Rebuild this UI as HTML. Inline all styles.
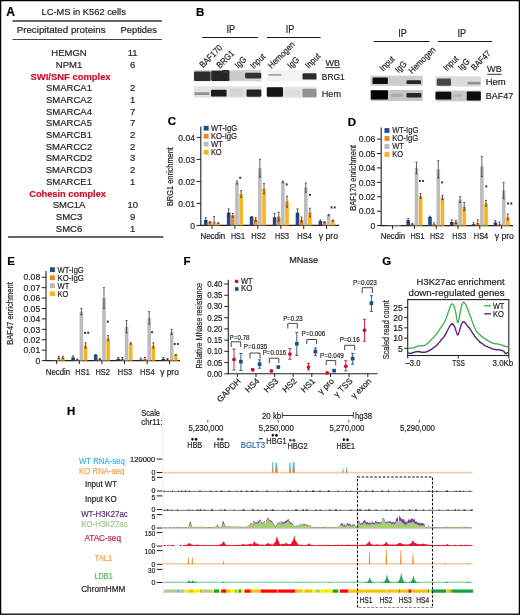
<!DOCTYPE html><html><head><meta charset="utf-8"><style>html,body{margin:0;padding:0;background:#fff;}svg{display:block;font-family:"Liberation Sans",sans-serif;}text{stroke-width:0.2px;}</style></head><body>
<svg width="520" height="615" viewBox="0 0 520 615">
<defs><filter id="gb" x="0" y="0" width="100%" height="100%" color-interpolation-filters="sRGB"><feGaussianBlur stdDeviation="0.3"/></filter><filter id="bl" x="-20%" y="-50%" width="140%" height="200%"><feGaussianBlur stdDeviation="0.55"/></filter></defs>
<rect x="0" y="0" width="520" height="615" fill="#fff"/>
<g fill="#231f20" filter="url(#gb)">
<text x="6.30" y="15.50" font-size="12" font-weight="bold" fill="#000" stroke="#000">A</text>
<text x="41.50" y="14.90" font-size="9.9" fill="#231f20" stroke="#231f20" textLength="84.3" lengthAdjust="spacingAndGlyphs">LC-MS in K562 cells</text>
<line x1="12.50" y1="20.90" x2="161.80" y2="20.90" stroke="#333" stroke-width="1.5"/>
<text x="16.70" y="33.10" font-size="9.9" fill="#231f20" stroke="#231f20" textLength="88.9" lengthAdjust="spacingAndGlyphs">Precipitated proteins</text>
<text x="120.50" y="33.10" font-size="9.9" fill="#231f20" stroke="#231f20" textLength="36.4" lengthAdjust="spacingAndGlyphs">Peptides</text>
<line x1="12.50" y1="39.50" x2="161.80" y2="39.50" stroke="#444" stroke-width="1"/>
<text x="69.00" y="55.90" font-size="9.5" text-anchor="middle" fill="#231f20" stroke="#231f20">HEMGN</text>
<text x="132.70" y="55.90" font-size="9.5" text-anchor="middle" fill="#231f20" stroke="#231f20">11</text>
<text x="69.00" y="67.62" font-size="9.5" text-anchor="middle" fill="#231f20" stroke="#231f20">NPM1</text>
<text x="132.70" y="67.62" font-size="9.5" text-anchor="middle" fill="#231f20" stroke="#231f20">6</text>
<text x="30.60" y="79.84" font-size="9.5" font-weight="bold" fill="#c8102e" stroke="#c8102e" textLength="80.0" lengthAdjust="spacingAndGlyphs">SWI/SNF complex</text>
<text x="69.00" y="91.06" font-size="9.5" text-anchor="middle" fill="#231f20" stroke="#231f20">SMARCA1</text>
<text x="132.70" y="91.06" font-size="9.5" text-anchor="middle" fill="#231f20" stroke="#231f20">2</text>
<text x="69.00" y="102.78" font-size="9.5" text-anchor="middle" fill="#231f20" stroke="#231f20">SMARCA2</text>
<text x="132.70" y="102.78" font-size="9.5" text-anchor="middle" fill="#231f20" stroke="#231f20">1</text>
<text x="69.00" y="114.50" font-size="9.5" text-anchor="middle" fill="#231f20" stroke="#231f20">SMARCA4</text>
<text x="132.70" y="114.50" font-size="9.5" text-anchor="middle" fill="#231f20" stroke="#231f20">7</text>
<text x="69.00" y="126.22" font-size="9.5" text-anchor="middle" fill="#231f20" stroke="#231f20">SMARCA5</text>
<text x="132.70" y="126.22" font-size="9.5" text-anchor="middle" fill="#231f20" stroke="#231f20">7</text>
<text x="69.00" y="137.94" font-size="9.5" text-anchor="middle" fill="#231f20" stroke="#231f20">SMARCB1</text>
<text x="132.70" y="137.94" font-size="9.5" text-anchor="middle" fill="#231f20" stroke="#231f20">2</text>
<text x="69.00" y="149.66" font-size="9.5" text-anchor="middle" fill="#231f20" stroke="#231f20">SMARCC2</text>
<text x="132.70" y="149.66" font-size="9.5" text-anchor="middle" fill="#231f20" stroke="#231f20">2</text>
<text x="69.00" y="161.38" font-size="9.5" text-anchor="middle" fill="#231f20" stroke="#231f20">SMARCD2</text>
<text x="132.70" y="161.38" font-size="9.5" text-anchor="middle" fill="#231f20" stroke="#231f20">3</text>
<text x="69.00" y="173.10" font-size="9.5" text-anchor="middle" fill="#231f20" stroke="#231f20">SMARCD3</text>
<text x="132.70" y="173.10" font-size="9.5" text-anchor="middle" fill="#231f20" stroke="#231f20">2</text>
<text x="69.00" y="184.82" font-size="9.5" text-anchor="middle" fill="#231f20" stroke="#231f20">SMARCE1</text>
<text x="132.70" y="184.82" font-size="9.5" text-anchor="middle" fill="#231f20" stroke="#231f20">1</text>
<text x="29.20" y="197.04" font-size="9.5" font-weight="bold" fill="#c8102e" stroke="#c8102e" textLength="76.8" lengthAdjust="spacingAndGlyphs">Cohesin complex</text>
<text x="69.00" y="208.26" font-size="9.5" text-anchor="middle" fill="#231f20" stroke="#231f20">SMC1A</text>
<text x="132.70" y="208.26" font-size="9.5" text-anchor="middle" fill="#231f20" stroke="#231f20">10</text>
<text x="69.00" y="219.98" font-size="9.5" text-anchor="middle" fill="#231f20" stroke="#231f20">SMC3</text>
<text x="132.70" y="219.98" font-size="9.5" text-anchor="middle" fill="#231f20" stroke="#231f20">9</text>
<text x="69.00" y="231.70" font-size="9.5" text-anchor="middle" fill="#231f20" stroke="#231f20">SMC6</text>
<text x="132.70" y="231.70" font-size="9.5" text-anchor="middle" fill="#231f20" stroke="#231f20">1</text>
<line x1="8.10" y1="237.10" x2="163.40" y2="237.10" stroke="#333" stroke-width="1.5"/>
<text x="195.90" y="16.10" font-size="11.5" font-weight="bold" fill="#000" stroke="#000">B</text>
<line x1="202.20" y1="37.50" x2="258.20" y2="37.50" stroke="#1a1a1a" stroke-width="1.15"/>
<text x="226.40" y="32.90" font-size="10.3" fill="#231f20" stroke="#231f20" textLength="8.6" lengthAdjust="spacingAndGlyphs">IP</text>
<line x1="266.90" y1="37.50" x2="320.60" y2="37.50" stroke="#1a1a1a" stroke-width="1.15"/>
<text x="285.70" y="33.00" font-size="10.3" fill="#231f20" stroke="#231f20" textLength="8.6" lengthAdjust="spacingAndGlyphs">IP</text>
<line x1="373.80" y1="41.50" x2="429.50" y2="41.50" stroke="#1a1a1a" stroke-width="1.15"/>
<text x="398.20" y="36.90" font-size="10.3" fill="#231f20" stroke="#231f20" textLength="8.6" lengthAdjust="spacingAndGlyphs">IP</text>
<line x1="437.80" y1="41.50" x2="492.00" y2="41.50" stroke="#1a1a1a" stroke-width="1.15"/>
<text x="457.40" y="37.30" font-size="10.3" fill="#231f20" stroke="#231f20" textLength="8.6" lengthAdjust="spacingAndGlyphs">IP</text>
<text transform="translate(203.00,68.30) rotate(-45)" font-size="8.9" fill="#231f20" stroke="#231f20" textLength="27.98" lengthAdjust="spacingAndGlyphs">BAF170</text>
<text transform="translate(220.00,68.80) rotate(-45)" font-size="8.9" fill="#231f20" stroke="#231f20" textLength="21.09" lengthAdjust="spacingAndGlyphs">BRG1</text>
<text transform="translate(238.30,68.80) rotate(-45)" font-size="8.9" fill="#231f20" stroke="#231f20" textLength="12.48" lengthAdjust="spacingAndGlyphs">IgG</text>
<text transform="translate(253.80,69.30) rotate(-45)" font-size="8.9" fill="#231f20" stroke="#231f20" textLength="17.22" lengthAdjust="spacingAndGlyphs">Input</text>
<text transform="translate(271.60,69.00) rotate(-45)" font-size="8.9" fill="#231f20" stroke="#231f20" textLength="33.57" lengthAdjust="spacingAndGlyphs">Hemogen</text>
<text transform="translate(291.00,69.00) rotate(-45)" font-size="8.9" fill="#231f20" stroke="#231f20" textLength="12.48" lengthAdjust="spacingAndGlyphs">IgG</text>
<text transform="translate(308.80,69.00) rotate(-45)" font-size="8.9" fill="#231f20" stroke="#231f20" textLength="17.22" lengthAdjust="spacingAndGlyphs">Input</text>
<text transform="translate(383.20,71.80) rotate(-45)" font-size="8.9" fill="#231f20" stroke="#231f20" textLength="17.22" lengthAdjust="spacingAndGlyphs">Input</text>
<text transform="translate(398.50,73.20) rotate(-45)" font-size="8.9" fill="#231f20" stroke="#231f20" textLength="12.48" lengthAdjust="spacingAndGlyphs">IgG</text>
<text transform="translate(412.30,74.20) rotate(-45)" font-size="8.9" fill="#231f20" stroke="#231f20" textLength="33.57" lengthAdjust="spacingAndGlyphs">Hemogen</text>
<text transform="translate(446.80,71.60) rotate(-45)" font-size="8.9" fill="#231f20" stroke="#231f20" textLength="17.22" lengthAdjust="spacingAndGlyphs">Input</text>
<text transform="translate(461.50,70.90) rotate(-45)" font-size="8.9" fill="#231f20" stroke="#231f20" textLength="12.48" lengthAdjust="spacingAndGlyphs">IgG</text>
<text transform="translate(474.50,70.90) rotate(-45)" font-size="8.9" fill="#231f20" stroke="#231f20" textLength="23.67" lengthAdjust="spacingAndGlyphs">BAF47</text>
<text x="325.40" y="65.90" font-size="9.6" fill="#231f20" stroke="#231f20" textLength="14.6" lengthAdjust="spacingAndGlyphs">WB</text>
<line x1="325.40" y1="67.60" x2="340.00" y2="67.60" stroke="#222" stroke-width="0.9"/>
<text x="321.80" y="79.70" font-size="9.6" fill="#231f20" stroke="#231f20" textLength="23.0" lengthAdjust="spacingAndGlyphs">BRG1</text>
<text x="321.80" y="96.50" font-size="9.6" fill="#231f20" stroke="#231f20" textLength="19.2" lengthAdjust="spacingAndGlyphs">Hem</text>
<text x="487.10" y="72.40" font-size="9.6" fill="#231f20" stroke="#231f20" textLength="14.7" lengthAdjust="spacingAndGlyphs">WB</text>
<line x1="487.10" y1="74.30" x2="501.80" y2="74.30" stroke="#222" stroke-width="0.9"/>
<text x="485.70" y="85.40" font-size="9.6" fill="#231f20" stroke="#231f20" textLength="20.1" lengthAdjust="spacingAndGlyphs">Hem</text>
<text x="485.70" y="99.30" font-size="9.6" fill="#231f20" stroke="#231f20" textLength="27.7" lengthAdjust="spacingAndGlyphs">BAF47</text>
<rect x="193.80" y="70.00" width="67.70" height="11.40" fill="#d4d4d4"/>
<rect x="194.00" y="71.60" width="16.60" height="9.40" rx="1.20" fill="#2e2e2e" opacity="1.0" filter="url(#bl)"/>
<rect x="211.20" y="70.80" width="18.40" height="10.20" rx="1.20" fill="#282828" opacity="1.0" filter="url(#bl)"/>
<rect x="222.00" y="70.00" width="7.00" height="3.00" rx="1.00" fill="#303030" opacity="1.0" filter="url(#bl)"/>
<rect x="229.50" y="72.00" width="14.50" height="8.00" rx="1.20" fill="#c8c8c8" opacity="0.8" filter="url(#bl)"/>
<rect x="245.00" y="72.80" width="16.20" height="5.60" rx="1.20" fill="#333333" opacity="1.0" filter="url(#bl)"/>
<rect x="193.80" y="86.30" width="67.70" height="11.40" fill="#e2e2e2"/>
<rect x="194.50" y="92.30" width="15.00" height="2.60" rx="0.87" fill="#8a8a8a" opacity="0.9" filter="url(#bl)"/>
<rect x="211.00" y="89.80" width="15.60" height="6.80" rx="1.20" fill="#1c1c1c" opacity="1.0" filter="url(#bl)"/>
<rect x="229.50" y="88.50" width="14.00" height="8.00" rx="1.20" fill="#d2d2d2" opacity="0.8" filter="url(#bl)"/>
<rect x="246.50" y="89.40" width="14.80" height="7.40" rx="1.20" fill="#222222" opacity="1.0" filter="url(#bl)"/>
<rect x="266.80" y="70.20" width="50.00" height="11.20" fill="#f3f3f3"/>
<rect x="268.50" y="74.00" width="13.00" height="1.80" rx="0.60" fill="#9a9a9a" opacity="0.9" filter="url(#bl)"/>
<rect x="302.50" y="73.30" width="14.00" height="6.30" rx="1.20" fill="#2c2c2c" opacity="1.0" filter="url(#bl)"/>
<rect x="266.80" y="86.80" width="50.00" height="11.00" fill="#e4e4e4"/>
<rect x="266.80" y="87.20" width="16.20" height="9.60" rx="1.20" fill="#141414" opacity="1.0" filter="url(#bl)"/>
<rect x="286.00" y="90.50" width="14.00" height="5.00" rx="1.20" fill="#d8d8d8" opacity="0.6" filter="url(#bl)"/>
<rect x="302.50" y="88.80" width="14.00" height="8.40" rx="1.20" fill="#8a8a8a" opacity="0.9" filter="url(#bl)"/>
<rect x="370.50" y="75.70" width="52.30" height="10.10" fill="#cdcdcd"/>
<rect x="372.50" y="77.50" width="15.40" height="6.40" rx="1.20" fill="#0e0e0e" opacity="1.0" filter="url(#bl)"/>
<rect x="406.50" y="80.20" width="14.50" height="3.90" rx="1.20" fill="#262626" opacity="1.0" filter="url(#bl)"/>
<rect x="370.50" y="90.00" width="52.30" height="11.00" fill="#c6c6c6"/>
<rect x="370.80" y="90.30" width="17.20" height="9.20" rx="1.20" fill="#050505" opacity="1.0" filter="url(#bl)"/>
<rect x="391.00" y="93.50" width="12.00" height="3.50" rx="1.17" fill="#a6a6a6" opacity="0.8" filter="url(#bl)"/>
<rect x="406.50" y="93.00" width="14.80" height="4.60" rx="1.20" fill="#262626" opacity="1.0" filter="url(#bl)"/>
<rect x="435.50" y="76.20" width="45.50" height="10.40" fill="#dcdcdc"/>
<rect x="436.80" y="78.60" width="14.20" height="7.20" rx="1.20" fill="#474747" opacity="1.0" filter="url(#bl)"/>
<rect x="467.50" y="81.80" width="13.00" height="2.80" rx="0.93" fill="#8c8c8c" opacity="0.9" filter="url(#bl)"/>
<rect x="435.50" y="90.60" width="45.50" height="10.70" fill="#c8c8c8"/>
<rect x="435.50" y="91.80" width="15.80" height="7.60" rx="1.20" fill="#0a0a0a" opacity="1.0" filter="url(#bl)"/>
<rect x="453.00" y="94.00" width="9.00" height="3.00" rx="1.00" fill="#b0b0b0" opacity="0.7" filter="url(#bl)"/>
<rect x="466.80" y="91.40" width="14.00" height="9.00" rx="1.20" fill="#080808" opacity="1.0" filter="url(#bl)"/>
<text x="167.70" y="124.60" font-size="11.5" font-weight="bold" fill="#000" stroke="#000">C</text>
<line x1="200.80" y1="126.50" x2="200.80" y2="225.80" stroke="#231f20" stroke-width="1.1"/>
<line x1="200.30" y1="225.40" x2="339.20" y2="225.40" stroke="#231f20" stroke-width="1.1"/>
<line x1="196.60" y1="225.40" x2="200.80" y2="225.40" stroke="#231f20" stroke-width="1.0"/>
<text x="195.00" y="228.60" font-size="8.6" text-anchor="end" fill="#231f20" stroke="#231f20">0</text>
<line x1="196.60" y1="203.40" x2="200.80" y2="203.40" stroke="#231f20" stroke-width="1.0"/>
<text x="195.00" y="206.60" font-size="8.6" text-anchor="end" fill="#231f20" stroke="#231f20">0.01</text>
<line x1="196.60" y1="181.40" x2="200.80" y2="181.40" stroke="#231f20" stroke-width="1.0"/>
<text x="195.00" y="184.60" font-size="8.6" text-anchor="end" fill="#231f20" stroke="#231f20">0.02</text>
<line x1="196.60" y1="159.40" x2="200.80" y2="159.40" stroke="#231f20" stroke-width="1.0"/>
<text x="195.00" y="162.60" font-size="8.6" text-anchor="end" fill="#231f20" stroke="#231f20">0.03</text>
<line x1="196.60" y1="137.40" x2="200.80" y2="137.40" stroke="#231f20" stroke-width="1.0"/>
<text x="195.00" y="140.60" font-size="8.6" text-anchor="end" fill="#231f20" stroke="#231f20">0.04</text>
<line x1="212.00" y1="225.40" x2="212.00" y2="228.90" stroke="#231f20" stroke-width="1.0"/>
<line x1="234.90" y1="225.40" x2="234.90" y2="228.90" stroke="#231f20" stroke-width="1.0"/>
<line x1="257.80" y1="225.40" x2="257.80" y2="228.90" stroke="#231f20" stroke-width="1.0"/>
<line x1="280.80" y1="225.40" x2="280.80" y2="228.90" stroke="#231f20" stroke-width="1.0"/>
<line x1="303.70" y1="225.40" x2="303.70" y2="228.90" stroke="#231f20" stroke-width="1.0"/>
<line x1="326.60" y1="225.40" x2="326.60" y2="228.90" stroke="#231f20" stroke-width="1.0"/>
<rect x="203.97" y="219.90" width="3.60" height="5.50" fill="#1f4e89"/>
<line x1="205.78" y1="217.70" x2="205.78" y2="222.10" stroke="#2a2a2a" stroke-width="0.75"/>
<line x1="204.78" y1="217.70" x2="206.78" y2="217.70" stroke="#2a2a2a" stroke-width="0.75"/>
<line x1="204.78" y1="222.10" x2="206.78" y2="222.10" stroke="#2a2a2a" stroke-width="0.75"/>
<rect x="208.12" y="222.10" width="3.60" height="3.30" fill="#f08522"/>
<line x1="209.93" y1="221.44" x2="209.93" y2="222.76" stroke="#2a2a2a" stroke-width="0.75"/>
<line x1="208.93" y1="221.44" x2="210.93" y2="221.44" stroke="#2a2a2a" stroke-width="0.75"/>
<line x1="208.93" y1="222.76" x2="210.93" y2="222.76" stroke="#2a2a2a" stroke-width="0.75"/>
<rect x="212.28" y="221.44" width="3.60" height="3.96" fill="#bcbcbf"/>
<line x1="214.08" y1="216.60" x2="214.08" y2="225.40" stroke="#2a2a2a" stroke-width="0.75"/>
<line x1="213.08" y1="216.60" x2="215.08" y2="216.60" stroke="#2a2a2a" stroke-width="0.75"/>
<rect x="216.42" y="223.20" width="3.60" height="2.20" fill="#f9b31d"/>
<line x1="218.22" y1="222.76" x2="218.22" y2="223.64" stroke="#2a2a2a" stroke-width="0.75"/>
<line x1="217.22" y1="222.76" x2="219.22" y2="222.76" stroke="#2a2a2a" stroke-width="0.75"/>
<line x1="217.22" y1="223.64" x2="219.22" y2="223.64" stroke="#2a2a2a" stroke-width="0.75"/>
<rect x="226.88" y="212.64" width="3.60" height="12.76" fill="#1f4e89"/>
<line x1="228.68" y1="208.90" x2="228.68" y2="216.38" stroke="#2a2a2a" stroke-width="0.75"/>
<line x1="227.68" y1="208.90" x2="229.68" y2="208.90" stroke="#2a2a2a" stroke-width="0.75"/>
<line x1="227.68" y1="216.38" x2="229.68" y2="216.38" stroke="#2a2a2a" stroke-width="0.75"/>
<rect x="231.03" y="215.28" width="3.60" height="10.12" fill="#f08522"/>
<line x1="232.83" y1="213.30" x2="232.83" y2="217.26" stroke="#2a2a2a" stroke-width="0.75"/>
<line x1="231.83" y1="213.30" x2="233.83" y2="213.30" stroke="#2a2a2a" stroke-width="0.75"/>
<line x1="231.83" y1="217.26" x2="233.83" y2="217.26" stroke="#2a2a2a" stroke-width="0.75"/>
<rect x="235.18" y="182.50" width="3.60" height="42.90" fill="#bcbcbf"/>
<line x1="236.98" y1="180.96" x2="236.98" y2="184.04" stroke="#2a2a2a" stroke-width="0.75"/>
<line x1="235.98" y1="180.96" x2="237.98" y2="180.96" stroke="#2a2a2a" stroke-width="0.75"/>
<line x1="235.98" y1="184.04" x2="237.98" y2="184.04" stroke="#2a2a2a" stroke-width="0.75"/>
<rect x="239.32" y="193.94" width="3.60" height="31.46" fill="#f9b31d"/>
<line x1="241.12" y1="190.64" x2="241.12" y2="197.24" stroke="#2a2a2a" stroke-width="0.75"/>
<line x1="240.12" y1="190.64" x2="242.12" y2="190.64" stroke="#2a2a2a" stroke-width="0.75"/>
<line x1="240.12" y1="197.24" x2="242.12" y2="197.24" stroke="#2a2a2a" stroke-width="0.75"/>
<rect x="249.78" y="216.82" width="3.60" height="8.58" fill="#1f4e89"/>
<line x1="251.58" y1="216.60" x2="251.58" y2="217.04" stroke="#2a2a2a" stroke-width="0.75"/>
<line x1="250.58" y1="216.60" x2="252.58" y2="216.60" stroke="#2a2a2a" stroke-width="0.75"/>
<line x1="250.58" y1="217.04" x2="252.58" y2="217.04" stroke="#2a2a2a" stroke-width="0.75"/>
<rect x="253.93" y="219.46" width="3.60" height="5.94" fill="#f08522"/>
<line x1="255.73" y1="217.70" x2="255.73" y2="221.22" stroke="#2a2a2a" stroke-width="0.75"/>
<line x1="254.73" y1="217.70" x2="256.73" y2="217.70" stroke="#2a2a2a" stroke-width="0.75"/>
<line x1="254.73" y1="221.22" x2="256.73" y2="221.22" stroke="#2a2a2a" stroke-width="0.75"/>
<rect x="258.07" y="168.20" width="3.60" height="57.20" fill="#bcbcbf"/>
<line x1="259.88" y1="159.40" x2="259.88" y2="177.00" stroke="#2a2a2a" stroke-width="0.75"/>
<line x1="258.88" y1="159.40" x2="260.88" y2="159.40" stroke="#2a2a2a" stroke-width="0.75"/>
<line x1="258.88" y1="177.00" x2="260.88" y2="177.00" stroke="#2a2a2a" stroke-width="0.75"/>
<rect x="262.23" y="188.66" width="3.60" height="36.74" fill="#f9b31d"/>
<line x1="264.03" y1="183.60" x2="264.03" y2="193.72" stroke="#2a2a2a" stroke-width="0.75"/>
<line x1="263.03" y1="183.60" x2="265.03" y2="183.60" stroke="#2a2a2a" stroke-width="0.75"/>
<line x1="263.03" y1="193.72" x2="265.03" y2="193.72" stroke="#2a2a2a" stroke-width="0.75"/>
<rect x="272.78" y="217.26" width="3.60" height="8.14" fill="#1f4e89"/>
<line x1="274.58" y1="213.30" x2="274.58" y2="221.22" stroke="#2a2a2a" stroke-width="0.75"/>
<line x1="273.58" y1="213.30" x2="275.58" y2="213.30" stroke="#2a2a2a" stroke-width="0.75"/>
<line x1="273.58" y1="221.22" x2="275.58" y2="221.22" stroke="#2a2a2a" stroke-width="0.75"/>
<rect x="276.93" y="216.60" width="3.60" height="8.80" fill="#f08522"/>
<line x1="278.73" y1="212.20" x2="278.73" y2="221.00" stroke="#2a2a2a" stroke-width="0.75"/>
<line x1="277.73" y1="212.20" x2="279.73" y2="212.20" stroke="#2a2a2a" stroke-width="0.75"/>
<line x1="277.73" y1="221.00" x2="279.73" y2="221.00" stroke="#2a2a2a" stroke-width="0.75"/>
<rect x="281.08" y="181.84" width="3.60" height="43.56" fill="#bcbcbf"/>
<line x1="282.88" y1="180.96" x2="282.88" y2="182.72" stroke="#2a2a2a" stroke-width="0.75"/>
<line x1="281.88" y1="180.96" x2="283.88" y2="180.96" stroke="#2a2a2a" stroke-width="0.75"/>
<line x1="281.88" y1="182.72" x2="283.88" y2="182.72" stroke="#2a2a2a" stroke-width="0.75"/>
<rect x="285.23" y="201.64" width="3.60" height="23.76" fill="#f9b31d"/>
<line x1="287.03" y1="196.14" x2="287.03" y2="207.14" stroke="#2a2a2a" stroke-width="0.75"/>
<line x1="286.03" y1="196.14" x2="288.03" y2="196.14" stroke="#2a2a2a" stroke-width="0.75"/>
<line x1="286.03" y1="207.14" x2="288.03" y2="207.14" stroke="#2a2a2a" stroke-width="0.75"/>
<rect x="295.68" y="212.64" width="3.60" height="12.76" fill="#1f4e89"/>
<line x1="297.48" y1="208.90" x2="297.48" y2="216.38" stroke="#2a2a2a" stroke-width="0.75"/>
<line x1="296.48" y1="208.90" x2="298.48" y2="208.90" stroke="#2a2a2a" stroke-width="0.75"/>
<line x1="296.48" y1="216.38" x2="298.48" y2="216.38" stroke="#2a2a2a" stroke-width="0.75"/>
<rect x="299.82" y="219.68" width="3.60" height="5.72" fill="#f08522"/>
<line x1="301.62" y1="217.04" x2="301.62" y2="222.32" stroke="#2a2a2a" stroke-width="0.75"/>
<line x1="300.62" y1="217.04" x2="302.62" y2="217.04" stroke="#2a2a2a" stroke-width="0.75"/>
<line x1="300.62" y1="222.32" x2="302.62" y2="222.32" stroke="#2a2a2a" stroke-width="0.75"/>
<rect x="303.98" y="187.56" width="3.60" height="37.84" fill="#bcbcbf"/>
<line x1="305.78" y1="182.94" x2="305.78" y2="192.18" stroke="#2a2a2a" stroke-width="0.75"/>
<line x1="304.78" y1="182.94" x2="306.78" y2="182.94" stroke="#2a2a2a" stroke-width="0.75"/>
<line x1="304.78" y1="192.18" x2="306.78" y2="192.18" stroke="#2a2a2a" stroke-width="0.75"/>
<rect x="308.12" y="212.64" width="3.60" height="12.76" fill="#f9b31d"/>
<line x1="309.93" y1="208.24" x2="309.93" y2="217.04" stroke="#2a2a2a" stroke-width="0.75"/>
<line x1="308.93" y1="208.24" x2="310.93" y2="208.24" stroke="#2a2a2a" stroke-width="0.75"/>
<line x1="308.93" y1="217.04" x2="310.93" y2="217.04" stroke="#2a2a2a" stroke-width="0.75"/>
<rect x="318.58" y="221.00" width="3.60" height="4.40" fill="#1f4e89"/>
<line x1="320.38" y1="219.90" x2="320.38" y2="222.10" stroke="#2a2a2a" stroke-width="0.75"/>
<line x1="319.38" y1="219.90" x2="321.38" y2="219.90" stroke="#2a2a2a" stroke-width="0.75"/>
<line x1="319.38" y1="222.10" x2="321.38" y2="222.10" stroke="#2a2a2a" stroke-width="0.75"/>
<rect x="322.73" y="222.10" width="3.60" height="3.30" fill="#f08522"/>
<line x1="324.53" y1="221.44" x2="324.53" y2="222.76" stroke="#2a2a2a" stroke-width="0.75"/>
<line x1="323.53" y1="221.44" x2="325.53" y2="221.44" stroke="#2a2a2a" stroke-width="0.75"/>
<line x1="323.53" y1="222.76" x2="325.53" y2="222.76" stroke="#2a2a2a" stroke-width="0.75"/>
<rect x="326.88" y="215.06" width="3.60" height="10.34" fill="#bcbcbf"/>
<line x1="328.68" y1="214.40" x2="328.68" y2="215.72" stroke="#2a2a2a" stroke-width="0.75"/>
<line x1="327.68" y1="214.40" x2="329.68" y2="214.40" stroke="#2a2a2a" stroke-width="0.75"/>
<line x1="327.68" y1="215.72" x2="329.68" y2="215.72" stroke="#2a2a2a" stroke-width="0.75"/>
<rect x="331.03" y="220.56" width="3.60" height="4.84" fill="#f9b31d"/>
<line x1="332.83" y1="219.90" x2="332.83" y2="221.22" stroke="#2a2a2a" stroke-width="0.75"/>
<line x1="331.83" y1="219.90" x2="333.83" y2="219.90" stroke="#2a2a2a" stroke-width="0.75"/>
<line x1="331.83" y1="221.22" x2="333.83" y2="221.22" stroke="#2a2a2a" stroke-width="0.75"/>
<path d="M240.20,176.65L240.20,178.95M239.20,177.23L241.20,178.38M239.20,178.38L241.20,177.23" stroke="#222" stroke-width="0.8" fill="none"/>
<path d="M286.70,183.25L286.70,185.55M285.70,183.83L287.70,184.97M285.70,184.97L287.70,183.83" stroke="#222" stroke-width="0.8" fill="none"/>
<path d="M310.00,193.65L310.00,195.95M309.00,194.23L311.00,195.38M309.00,195.38L311.00,194.23" stroke="#222" stroke-width="0.8" fill="none"/>
<path d="M331.50,206.25L331.50,208.55M330.50,206.83L332.50,207.97M330.50,207.97L332.50,206.83" stroke="#222" stroke-width="0.8" fill="none"/>
<path d="M334.70,206.25L334.70,208.55M333.70,206.83L335.70,207.97M333.70,207.97L335.70,206.83" stroke="#222" stroke-width="0.8" fill="none"/>
<text transform="translate(172.70,176.60) rotate(-90)" font-size="9.0" text-anchor="middle" fill="#231f20" stroke="#231f20" textLength="59.0" lengthAdjust="spacingAndGlyphs">BRG1 enrichment</text>
<rect x="203.70" y="125.80" width="4.90" height="4.80" fill="#1f4e89"/>
<text x="210.90" y="131.10" font-size="8.4" fill="#231f20" stroke="#231f20" textLength="26.2" lengthAdjust="spacingAndGlyphs">WT-IgG</text>
<rect x="203.70" y="133.80" width="4.90" height="4.80" fill="#f08522"/>
<text x="210.90" y="139.10" font-size="8.4" fill="#231f20" stroke="#231f20" textLength="26.2" lengthAdjust="spacingAndGlyphs">KO-IgG</text>
<rect x="203.70" y="141.80" width="4.90" height="4.80" fill="#bcbcbf"/>
<text x="210.90" y="147.10" font-size="8.4" fill="#231f20" stroke="#231f20" textLength="11.8" lengthAdjust="spacingAndGlyphs">WT</text>
<rect x="203.70" y="149.80" width="4.90" height="4.80" fill="#f9b31d"/>
<text x="210.90" y="155.10" font-size="8.4" fill="#231f20" stroke="#231f20" textLength="10.8" lengthAdjust="spacingAndGlyphs">KO</text>
<text x="212.80" y="238.70" font-size="8.5" text-anchor="middle" fill="#231f20" stroke="#231f20" textLength="24.8" lengthAdjust="spacingAndGlyphs">Necdin</text>
<text x="237.90" y="238.70" font-size="8.5" text-anchor="middle" fill="#231f20" stroke="#231f20" textLength="14.0" lengthAdjust="spacingAndGlyphs">HS1</text>
<text x="258.60" y="238.70" font-size="8.5" text-anchor="middle" fill="#231f20" stroke="#231f20" textLength="14.6" lengthAdjust="spacingAndGlyphs">HS2</text>
<text x="282.00" y="238.70" font-size="8.5" text-anchor="middle" fill="#231f20" stroke="#231f20" textLength="14.0" lengthAdjust="spacingAndGlyphs">HS3</text>
<text x="304.60" y="238.70" font-size="8.5" text-anchor="middle" fill="#231f20" stroke="#231f20" textLength="14.6" lengthAdjust="spacingAndGlyphs">HS4</text>
<text x="328.40" y="238.70" font-size="8.5" text-anchor="middle" fill="#231f20" stroke="#231f20" textLength="19.2" lengthAdjust="spacingAndGlyphs">γ pro</text>
<text x="347.80" y="126.10" font-size="11.5" font-weight="bold" fill="#000" stroke="#000">D</text>
<line x1="381.20" y1="127.50" x2="381.20" y2="226.00" stroke="#231f20" stroke-width="1.1"/>
<line x1="380.70" y1="225.60" x2="513.00" y2="225.60" stroke="#231f20" stroke-width="1.1"/>
<line x1="377.00" y1="225.60" x2="381.20" y2="225.60" stroke="#231f20" stroke-width="1.0"/>
<text x="375.40" y="228.80" font-size="8.6" text-anchor="end" fill="#231f20" stroke="#231f20">0</text>
<line x1="377.00" y1="211.18" x2="381.20" y2="211.18" stroke="#231f20" stroke-width="1.0"/>
<text x="375.40" y="214.38" font-size="8.6" text-anchor="end" fill="#231f20" stroke="#231f20">0.01</text>
<line x1="377.00" y1="196.76" x2="381.20" y2="196.76" stroke="#231f20" stroke-width="1.0"/>
<text x="375.40" y="199.96" font-size="8.6" text-anchor="end" fill="#231f20" stroke="#231f20">0.02</text>
<line x1="377.00" y1="182.34" x2="381.20" y2="182.34" stroke="#231f20" stroke-width="1.0"/>
<text x="375.40" y="185.54" font-size="8.6" text-anchor="end" fill="#231f20" stroke="#231f20">0.03</text>
<line x1="377.00" y1="167.92" x2="381.20" y2="167.92" stroke="#231f20" stroke-width="1.0"/>
<text x="375.40" y="171.12" font-size="8.6" text-anchor="end" fill="#231f20" stroke="#231f20">0.04</text>
<line x1="377.00" y1="153.50" x2="381.20" y2="153.50" stroke="#231f20" stroke-width="1.0"/>
<text x="375.40" y="156.70" font-size="8.6" text-anchor="end" fill="#231f20" stroke="#231f20">0.05</text>
<line x1="377.00" y1="139.08" x2="381.20" y2="139.08" stroke="#231f20" stroke-width="1.0"/>
<text x="375.40" y="142.28" font-size="8.6" text-anchor="end" fill="#231f20" stroke="#231f20">0.06</text>
<line x1="392.60" y1="225.60" x2="392.60" y2="229.10" stroke="#231f20" stroke-width="1.0"/>
<line x1="414.40" y1="225.60" x2="414.40" y2="229.10" stroke="#231f20" stroke-width="1.0"/>
<line x1="436.20" y1="225.60" x2="436.20" y2="229.10" stroke="#231f20" stroke-width="1.0"/>
<line x1="458.00" y1="225.60" x2="458.00" y2="229.10" stroke="#231f20" stroke-width="1.0"/>
<line x1="479.80" y1="225.60" x2="479.80" y2="229.10" stroke="#231f20" stroke-width="1.0"/>
<line x1="501.60" y1="225.60" x2="501.60" y2="229.10" stroke="#231f20" stroke-width="1.0"/>
<rect x="384.58" y="225.17" width="3.60" height="0.43" fill="#1f4e89"/>
<rect x="388.73" y="225.17" width="3.60" height="0.43" fill="#f08522"/>
<rect x="392.88" y="224.88" width="3.60" height="0.72" fill="#bcbcbf"/>
<rect x="397.03" y="224.88" width="3.60" height="0.72" fill="#f9b31d"/>
<rect x="406.38" y="220.12" width="3.60" height="5.48" fill="#1f4e89"/>
<line x1="408.18" y1="218.39" x2="408.18" y2="221.85" stroke="#2a2a2a" stroke-width="0.75"/>
<line x1="407.18" y1="218.39" x2="409.18" y2="218.39" stroke="#2a2a2a" stroke-width="0.75"/>
<line x1="407.18" y1="221.85" x2="409.18" y2="221.85" stroke="#2a2a2a" stroke-width="0.75"/>
<rect x="410.52" y="224.16" width="3.60" height="1.44" fill="#f08522"/>
<line x1="412.32" y1="223.44" x2="412.32" y2="224.88" stroke="#2a2a2a" stroke-width="0.75"/>
<line x1="411.32" y1="223.44" x2="413.32" y2="223.44" stroke="#2a2a2a" stroke-width="0.75"/>
<line x1="411.32" y1="224.88" x2="413.32" y2="224.88" stroke="#2a2a2a" stroke-width="0.75"/>
<rect x="414.68" y="167.92" width="3.60" height="57.68" fill="#bcbcbf"/>
<line x1="416.48" y1="162.15" x2="416.48" y2="173.69" stroke="#2a2a2a" stroke-width="0.75"/>
<line x1="415.48" y1="162.15" x2="417.48" y2="162.15" stroke="#2a2a2a" stroke-width="0.75"/>
<line x1="415.48" y1="173.69" x2="417.48" y2="173.69" stroke="#2a2a2a" stroke-width="0.75"/>
<rect x="418.82" y="196.04" width="3.60" height="29.56" fill="#f9b31d"/>
<line x1="420.62" y1="193.59" x2="420.62" y2="198.49" stroke="#2a2a2a" stroke-width="0.75"/>
<line x1="419.62" y1="193.59" x2="421.62" y2="193.59" stroke="#2a2a2a" stroke-width="0.75"/>
<line x1="419.62" y1="198.49" x2="421.62" y2="198.49" stroke="#2a2a2a" stroke-width="0.75"/>
<rect x="428.18" y="216.95" width="3.60" height="8.65" fill="#1f4e89"/>
<line x1="429.98" y1="216.23" x2="429.98" y2="217.67" stroke="#2a2a2a" stroke-width="0.75"/>
<line x1="428.98" y1="216.23" x2="430.98" y2="216.23" stroke="#2a2a2a" stroke-width="0.75"/>
<line x1="428.98" y1="217.67" x2="430.98" y2="217.67" stroke="#2a2a2a" stroke-width="0.75"/>
<rect x="432.32" y="224.16" width="3.60" height="1.44" fill="#f08522"/>
<line x1="434.12" y1="222.72" x2="434.12" y2="225.60" stroke="#2a2a2a" stroke-width="0.75"/>
<line x1="433.12" y1="222.72" x2="435.12" y2="222.72" stroke="#2a2a2a" stroke-width="0.75"/>
<rect x="436.48" y="169.36" width="3.60" height="56.24" fill="#bcbcbf"/>
<line x1="438.28" y1="160.71" x2="438.28" y2="178.01" stroke="#2a2a2a" stroke-width="0.75"/>
<line x1="437.28" y1="160.71" x2="439.28" y2="160.71" stroke="#2a2a2a" stroke-width="0.75"/>
<line x1="437.28" y1="178.01" x2="439.28" y2="178.01" stroke="#2a2a2a" stroke-width="0.75"/>
<rect x="440.62" y="197.48" width="3.60" height="28.12" fill="#f9b31d"/>
<line x1="442.43" y1="195.32" x2="442.43" y2="199.64" stroke="#2a2a2a" stroke-width="0.75"/>
<line x1="441.43" y1="195.32" x2="443.43" y2="195.32" stroke="#2a2a2a" stroke-width="0.75"/>
<line x1="441.43" y1="199.64" x2="443.43" y2="199.64" stroke="#2a2a2a" stroke-width="0.75"/>
<rect x="449.98" y="222.00" width="3.60" height="3.60" fill="#1f4e89"/>
<line x1="451.78" y1="219.83" x2="451.78" y2="224.16" stroke="#2a2a2a" stroke-width="0.75"/>
<line x1="450.78" y1="219.83" x2="452.78" y2="219.83" stroke="#2a2a2a" stroke-width="0.75"/>
<line x1="450.78" y1="224.16" x2="452.78" y2="224.16" stroke="#2a2a2a" stroke-width="0.75"/>
<rect x="454.12" y="222.00" width="3.60" height="3.60" fill="#f08522"/>
<line x1="455.93" y1="220.55" x2="455.93" y2="223.44" stroke="#2a2a2a" stroke-width="0.75"/>
<line x1="454.93" y1="220.55" x2="456.93" y2="220.55" stroke="#2a2a2a" stroke-width="0.75"/>
<line x1="454.93" y1="223.44" x2="456.93" y2="223.44" stroke="#2a2a2a" stroke-width="0.75"/>
<rect x="458.28" y="199.64" width="3.60" height="25.96" fill="#bcbcbf"/>
<line x1="460.08" y1="196.76" x2="460.08" y2="202.53" stroke="#2a2a2a" stroke-width="0.75"/>
<line x1="459.08" y1="196.76" x2="461.08" y2="196.76" stroke="#2a2a2a" stroke-width="0.75"/>
<line x1="459.08" y1="202.53" x2="461.08" y2="202.53" stroke="#2a2a2a" stroke-width="0.75"/>
<rect x="462.43" y="206.42" width="3.60" height="19.18" fill="#f9b31d"/>
<line x1="464.23" y1="202.53" x2="464.23" y2="210.31" stroke="#2a2a2a" stroke-width="0.75"/>
<line x1="463.23" y1="202.53" x2="465.23" y2="202.53" stroke="#2a2a2a" stroke-width="0.75"/>
<line x1="463.23" y1="210.31" x2="465.23" y2="210.31" stroke="#2a2a2a" stroke-width="0.75"/>
<rect x="471.78" y="224.16" width="3.60" height="1.44" fill="#1f4e89"/>
<line x1="473.58" y1="222.72" x2="473.58" y2="225.60" stroke="#2a2a2a" stroke-width="0.75"/>
<line x1="472.58" y1="222.72" x2="474.58" y2="222.72" stroke="#2a2a2a" stroke-width="0.75"/>
<rect x="475.93" y="223.00" width="3.60" height="2.60" fill="#f08522"/>
<line x1="477.73" y1="219.83" x2="477.73" y2="225.60" stroke="#2a2a2a" stroke-width="0.75"/>
<line x1="476.73" y1="219.83" x2="478.73" y2="219.83" stroke="#2a2a2a" stroke-width="0.75"/>
<rect x="480.08" y="166.48" width="3.60" height="59.12" fill="#bcbcbf"/>
<line x1="481.88" y1="156.38" x2="481.88" y2="176.57" stroke="#2a2a2a" stroke-width="0.75"/>
<line x1="480.88" y1="156.38" x2="482.88" y2="156.38" stroke="#2a2a2a" stroke-width="0.75"/>
<line x1="480.88" y1="176.57" x2="482.88" y2="176.57" stroke="#2a2a2a" stroke-width="0.75"/>
<rect x="484.23" y="203.25" width="3.60" height="22.35" fill="#f9b31d"/>
<line x1="486.03" y1="200.37" x2="486.03" y2="206.13" stroke="#2a2a2a" stroke-width="0.75"/>
<line x1="485.03" y1="200.37" x2="487.03" y2="200.37" stroke="#2a2a2a" stroke-width="0.75"/>
<line x1="485.03" y1="206.13" x2="487.03" y2="206.13" stroke="#2a2a2a" stroke-width="0.75"/>
<rect x="493.58" y="222.43" width="3.60" height="3.17" fill="#1f4e89"/>
<line x1="495.38" y1="220.55" x2="495.38" y2="224.30" stroke="#2a2a2a" stroke-width="0.75"/>
<line x1="494.38" y1="220.55" x2="496.38" y2="220.55" stroke="#2a2a2a" stroke-width="0.75"/>
<line x1="494.38" y1="224.30" x2="496.38" y2="224.30" stroke="#2a2a2a" stroke-width="0.75"/>
<rect x="497.73" y="224.16" width="3.60" height="1.44" fill="#f08522"/>
<line x1="499.53" y1="222.00" x2="499.53" y2="225.60" stroke="#2a2a2a" stroke-width="0.75"/>
<line x1="498.53" y1="222.00" x2="500.53" y2="222.00" stroke="#2a2a2a" stroke-width="0.75"/>
<rect x="501.88" y="190.56" width="3.60" height="35.04" fill="#bcbcbf"/>
<line x1="503.68" y1="182.34" x2="503.68" y2="198.78" stroke="#2a2a2a" stroke-width="0.75"/>
<line x1="502.68" y1="182.34" x2="504.68" y2="182.34" stroke="#2a2a2a" stroke-width="0.75"/>
<line x1="502.68" y1="198.78" x2="504.68" y2="198.78" stroke="#2a2a2a" stroke-width="0.75"/>
<rect x="506.03" y="216.95" width="3.60" height="8.65" fill="#f9b31d"/>
<line x1="507.83" y1="214.06" x2="507.83" y2="219.83" stroke="#2a2a2a" stroke-width="0.75"/>
<line x1="506.83" y1="214.06" x2="508.83" y2="214.06" stroke="#2a2a2a" stroke-width="0.75"/>
<line x1="506.83" y1="219.83" x2="508.83" y2="219.83" stroke="#2a2a2a" stroke-width="0.75"/>
<path d="M419.90,179.85L419.90,182.15M418.90,180.43L420.90,181.57M418.90,181.57L420.90,180.43" stroke="#222" stroke-width="0.8" fill="none"/>
<path d="M423.10,179.85L423.10,182.15M422.10,180.43L424.10,181.57M422.10,181.57L424.10,180.43" stroke="#222" stroke-width="0.8" fill="none"/>
<path d="M442.20,181.25L442.20,183.55M441.20,181.83L443.20,182.97M441.20,182.97L443.20,181.83" stroke="#222" stroke-width="0.8" fill="none"/>
<path d="M486.30,185.25L486.30,187.55M485.30,185.83L487.30,186.97M485.30,186.97L487.30,185.83" stroke="#222" stroke-width="0.8" fill="none"/>
<path d="M508.10,202.35L508.10,204.65M507.10,202.93L509.10,204.07M507.10,204.07L509.10,202.93" stroke="#222" stroke-width="0.8" fill="none"/>
<path d="M511.30,202.35L511.30,204.65M510.30,202.93L512.30,204.07M510.30,204.07L512.30,202.93" stroke="#222" stroke-width="0.8" fill="none"/>
<text transform="translate(355.80,177.80) rotate(-90)" font-size="9.0" text-anchor="middle" fill="#231f20" stroke="#231f20" textLength="66.0" lengthAdjust="spacingAndGlyphs">BAF170 enrichment</text>
<rect x="384.50" y="128.10" width="4.90" height="4.80" fill="#1f4e89"/>
<text x="392.20" y="133.40" font-size="8.4" fill="#231f20" stroke="#231f20" textLength="26.2" lengthAdjust="spacingAndGlyphs">WT-IgG</text>
<rect x="384.50" y="136.10" width="4.90" height="4.80" fill="#f08522"/>
<text x="392.20" y="141.40" font-size="8.4" fill="#231f20" stroke="#231f20" textLength="26.2" lengthAdjust="spacingAndGlyphs">KO-IgG</text>
<rect x="384.50" y="144.10" width="4.90" height="4.80" fill="#bcbcbf"/>
<text x="392.20" y="149.40" font-size="8.4" fill="#231f20" stroke="#231f20" textLength="11.8" lengthAdjust="spacingAndGlyphs">WT</text>
<rect x="384.50" y="152.10" width="4.90" height="4.80" fill="#f9b31d"/>
<text x="392.20" y="157.40" font-size="8.4" fill="#231f20" stroke="#231f20" textLength="10.8" lengthAdjust="spacingAndGlyphs">KO</text>
<text x="393.00" y="238.80" font-size="8.5" text-anchor="middle" fill="#231f20" stroke="#231f20" textLength="24.3" lengthAdjust="spacingAndGlyphs">Necdin</text>
<text x="417.40" y="238.80" font-size="8.5" text-anchor="middle" fill="#231f20" stroke="#231f20" textLength="14.0" lengthAdjust="spacingAndGlyphs">HS1</text>
<text x="436.90" y="238.80" font-size="8.5" text-anchor="middle" fill="#231f20" stroke="#231f20" textLength="14.0" lengthAdjust="spacingAndGlyphs">HS2</text>
<text x="459.20" y="238.80" font-size="8.5" text-anchor="middle" fill="#231f20" stroke="#231f20" textLength="14.0" lengthAdjust="spacingAndGlyphs">HS3</text>
<text x="481.00" y="238.80" font-size="8.5" text-anchor="middle" fill="#231f20" stroke="#231f20" textLength="14.5" lengthAdjust="spacingAndGlyphs">HS4</text>
<text x="504.30" y="238.80" font-size="8.5" text-anchor="middle" fill="#231f20" stroke="#231f20" textLength="19.3" lengthAdjust="spacingAndGlyphs">γ pro</text>
<text x="7.30" y="265.20" font-size="11.5" font-weight="bold" fill="#000" stroke="#000">E</text>
<line x1="46.00" y1="271.10" x2="46.00" y2="361.00" stroke="#231f20" stroke-width="1.1"/>
<line x1="45.50" y1="360.60" x2="180.00" y2="360.60" stroke="#231f20" stroke-width="1.1"/>
<line x1="41.80" y1="360.60" x2="46.00" y2="360.60" stroke="#231f20" stroke-width="1.0"/>
<text x="40.20" y="363.80" font-size="8.6" text-anchor="end" fill="#231f20" stroke="#231f20">0</text>
<line x1="41.80" y1="350.18" x2="46.00" y2="350.18" stroke="#231f20" stroke-width="1.0"/>
<text x="40.20" y="353.38" font-size="8.6" text-anchor="end" fill="#231f20" stroke="#231f20">0.01</text>
<line x1="41.80" y1="339.76" x2="46.00" y2="339.76" stroke="#231f20" stroke-width="1.0"/>
<text x="40.20" y="342.96" font-size="8.6" text-anchor="end" fill="#231f20" stroke="#231f20">0.02</text>
<line x1="41.80" y1="329.34" x2="46.00" y2="329.34" stroke="#231f20" stroke-width="1.0"/>
<text x="40.20" y="332.54" font-size="8.6" text-anchor="end" fill="#231f20" stroke="#231f20">0.03</text>
<line x1="41.80" y1="318.92" x2="46.00" y2="318.92" stroke="#231f20" stroke-width="1.0"/>
<text x="40.20" y="322.12" font-size="8.6" text-anchor="end" fill="#231f20" stroke="#231f20">0.04</text>
<line x1="41.80" y1="308.50" x2="46.00" y2="308.50" stroke="#231f20" stroke-width="1.0"/>
<text x="40.20" y="311.70" font-size="8.6" text-anchor="end" fill="#231f20" stroke="#231f20">0.05</text>
<line x1="41.80" y1="298.08" x2="46.00" y2="298.08" stroke="#231f20" stroke-width="1.0"/>
<text x="40.20" y="301.28" font-size="8.6" text-anchor="end" fill="#231f20" stroke="#231f20">0.06</text>
<line x1="41.80" y1="287.66" x2="46.00" y2="287.66" stroke="#231f20" stroke-width="1.0"/>
<text x="40.20" y="290.86" font-size="8.6" text-anchor="end" fill="#231f20" stroke="#231f20">0.07</text>
<line x1="41.80" y1="277.24" x2="46.00" y2="277.24" stroke="#231f20" stroke-width="1.0"/>
<text x="40.20" y="280.44" font-size="8.6" text-anchor="end" fill="#231f20" stroke="#231f20">0.08</text>
<line x1="56.70" y1="360.60" x2="56.70" y2="364.10" stroke="#231f20" stroke-width="1.0"/>
<line x1="79.30" y1="360.60" x2="79.30" y2="364.10" stroke="#231f20" stroke-width="1.0"/>
<line x1="101.90" y1="360.60" x2="101.90" y2="364.10" stroke="#231f20" stroke-width="1.0"/>
<line x1="124.50" y1="360.60" x2="124.50" y2="364.10" stroke="#231f20" stroke-width="1.0"/>
<line x1="147.10" y1="360.60" x2="147.10" y2="364.10" stroke="#231f20" stroke-width="1.0"/>
<line x1="169.60" y1="360.60" x2="169.60" y2="364.10" stroke="#231f20" stroke-width="1.0"/>
<rect x="48.68" y="360.29" width="3.60" height="0.31" fill="#1f4e89"/>
<rect x="52.83" y="360.29" width="3.60" height="0.31" fill="#f08522"/>
<rect x="56.98" y="357.47" width="3.60" height="3.13" fill="#bcbcbf"/>
<line x1="58.78" y1="356.43" x2="58.78" y2="358.52" stroke="#2a2a2a" stroke-width="0.75"/>
<line x1="57.78" y1="356.43" x2="59.78" y2="356.43" stroke="#2a2a2a" stroke-width="0.75"/>
<line x1="57.78" y1="358.52" x2="59.78" y2="358.52" stroke="#2a2a2a" stroke-width="0.75"/>
<rect x="61.13" y="357.47" width="3.60" height="3.13" fill="#f9b31d"/>
<line x1="62.93" y1="356.22" x2="62.93" y2="358.72" stroke="#2a2a2a" stroke-width="0.75"/>
<line x1="61.93" y1="356.22" x2="63.93" y2="356.22" stroke="#2a2a2a" stroke-width="0.75"/>
<line x1="61.93" y1="358.72" x2="63.93" y2="358.72" stroke="#2a2a2a" stroke-width="0.75"/>
<rect x="71.27" y="357.47" width="3.60" height="3.13" fill="#1f4e89"/>
<line x1="73.07" y1="355.91" x2="73.07" y2="359.04" stroke="#2a2a2a" stroke-width="0.75"/>
<line x1="72.07" y1="355.91" x2="74.07" y2="355.91" stroke="#2a2a2a" stroke-width="0.75"/>
<line x1="72.07" y1="359.04" x2="74.07" y2="359.04" stroke="#2a2a2a" stroke-width="0.75"/>
<rect x="75.42" y="359.56" width="3.60" height="1.04" fill="#f08522"/>
<line x1="77.22" y1="359.04" x2="77.22" y2="360.08" stroke="#2a2a2a" stroke-width="0.75"/>
<line x1="76.22" y1="359.04" x2="78.22" y2="359.04" stroke="#2a2a2a" stroke-width="0.75"/>
<line x1="76.22" y1="360.08" x2="78.22" y2="360.08" stroke="#2a2a2a" stroke-width="0.75"/>
<rect x="79.57" y="311.63" width="3.60" height="48.97" fill="#bcbcbf"/>
<line x1="81.37" y1="308.50" x2="81.37" y2="314.75" stroke="#2a2a2a" stroke-width="0.75"/>
<line x1="80.37" y1="308.50" x2="82.37" y2="308.50" stroke="#2a2a2a" stroke-width="0.75"/>
<line x1="80.37" y1="314.75" x2="82.37" y2="314.75" stroke="#2a2a2a" stroke-width="0.75"/>
<rect x="83.72" y="345.49" width="3.60" height="15.11" fill="#f9b31d"/>
<line x1="85.52" y1="342.89" x2="85.52" y2="348.10" stroke="#2a2a2a" stroke-width="0.75"/>
<line x1="84.52" y1="342.89" x2="86.52" y2="342.89" stroke="#2a2a2a" stroke-width="0.75"/>
<line x1="84.52" y1="348.10" x2="86.52" y2="348.10" stroke="#2a2a2a" stroke-width="0.75"/>
<rect x="93.88" y="354.87" width="3.60" height="5.73" fill="#1f4e89"/>
<line x1="95.67" y1="354.35" x2="95.67" y2="355.39" stroke="#2a2a2a" stroke-width="0.75"/>
<line x1="94.67" y1="354.35" x2="96.67" y2="354.35" stroke="#2a2a2a" stroke-width="0.75"/>
<line x1="94.67" y1="355.39" x2="96.67" y2="355.39" stroke="#2a2a2a" stroke-width="0.75"/>
<rect x="98.03" y="359.04" width="3.60" height="1.56" fill="#f08522"/>
<line x1="99.83" y1="358.52" x2="99.83" y2="359.56" stroke="#2a2a2a" stroke-width="0.75"/>
<line x1="98.83" y1="358.52" x2="100.83" y2="358.52" stroke="#2a2a2a" stroke-width="0.75"/>
<line x1="98.83" y1="359.56" x2="100.83" y2="359.56" stroke="#2a2a2a" stroke-width="0.75"/>
<rect x="102.17" y="298.08" width="3.60" height="62.52" fill="#bcbcbf"/>
<line x1="103.97" y1="287.66" x2="103.97" y2="308.50" stroke="#2a2a2a" stroke-width="0.75"/>
<line x1="102.97" y1="287.66" x2="104.97" y2="287.66" stroke="#2a2a2a" stroke-width="0.75"/>
<line x1="102.97" y1="308.50" x2="104.97" y2="308.50" stroke="#2a2a2a" stroke-width="0.75"/>
<rect x="106.33" y="338.20" width="3.60" height="22.40" fill="#f9b31d"/>
<line x1="108.12" y1="335.59" x2="108.12" y2="340.80" stroke="#2a2a2a" stroke-width="0.75"/>
<line x1="107.12" y1="335.59" x2="109.12" y2="335.59" stroke="#2a2a2a" stroke-width="0.75"/>
<line x1="107.12" y1="340.80" x2="109.12" y2="340.80" stroke="#2a2a2a" stroke-width="0.75"/>
<rect x="116.47" y="358.72" width="3.60" height="1.88" fill="#1f4e89"/>
<line x1="118.27" y1="357.47" x2="118.27" y2="359.97" stroke="#2a2a2a" stroke-width="0.75"/>
<line x1="117.27" y1="357.47" x2="119.27" y2="357.47" stroke="#2a2a2a" stroke-width="0.75"/>
<line x1="117.27" y1="359.97" x2="119.27" y2="359.97" stroke="#2a2a2a" stroke-width="0.75"/>
<rect x="120.62" y="358.72" width="3.60" height="1.88" fill="#f08522"/>
<line x1="122.42" y1="357.47" x2="122.42" y2="359.97" stroke="#2a2a2a" stroke-width="0.75"/>
<line x1="121.42" y1="357.47" x2="123.42" y2="357.47" stroke="#2a2a2a" stroke-width="0.75"/>
<line x1="121.42" y1="359.97" x2="123.42" y2="359.97" stroke="#2a2a2a" stroke-width="0.75"/>
<rect x="124.77" y="326.74" width="3.60" height="33.87" fill="#bcbcbf"/>
<line x1="126.57" y1="320.48" x2="126.57" y2="332.99" stroke="#2a2a2a" stroke-width="0.75"/>
<line x1="125.57" y1="320.48" x2="127.57" y2="320.48" stroke="#2a2a2a" stroke-width="0.75"/>
<line x1="125.57" y1="332.99" x2="127.57" y2="332.99" stroke="#2a2a2a" stroke-width="0.75"/>
<rect x="128.92" y="343.41" width="3.60" height="17.19" fill="#f9b31d"/>
<line x1="130.72" y1="342.68" x2="130.72" y2="344.14" stroke="#2a2a2a" stroke-width="0.75"/>
<line x1="129.72" y1="342.68" x2="131.72" y2="342.68" stroke="#2a2a2a" stroke-width="0.75"/>
<line x1="129.72" y1="344.14" x2="131.72" y2="344.14" stroke="#2a2a2a" stroke-width="0.75"/>
<rect x="139.07" y="359.56" width="3.60" height="1.04" fill="#1f4e89"/>
<line x1="140.88" y1="358.00" x2="140.88" y2="360.60" stroke="#2a2a2a" stroke-width="0.75"/>
<line x1="139.88" y1="358.00" x2="141.88" y2="358.00" stroke="#2a2a2a" stroke-width="0.75"/>
<rect x="143.22" y="359.04" width="3.60" height="1.56" fill="#f08522"/>
<line x1="145.03" y1="357.47" x2="145.03" y2="360.60" stroke="#2a2a2a" stroke-width="0.75"/>
<line x1="144.03" y1="357.47" x2="146.03" y2="357.47" stroke="#2a2a2a" stroke-width="0.75"/>
<rect x="147.38" y="317.88" width="3.60" height="42.72" fill="#bcbcbf"/>
<line x1="149.18" y1="311.63" x2="149.18" y2="324.13" stroke="#2a2a2a" stroke-width="0.75"/>
<line x1="148.18" y1="311.63" x2="150.18" y2="311.63" stroke="#2a2a2a" stroke-width="0.75"/>
<line x1="148.18" y1="324.13" x2="150.18" y2="324.13" stroke="#2a2a2a" stroke-width="0.75"/>
<rect x="151.52" y="345.49" width="3.60" height="15.11" fill="#f9b31d"/>
<line x1="153.32" y1="342.89" x2="153.32" y2="348.10" stroke="#2a2a2a" stroke-width="0.75"/>
<line x1="152.32" y1="342.89" x2="154.32" y2="342.89" stroke="#2a2a2a" stroke-width="0.75"/>
<line x1="152.32" y1="348.10" x2="154.32" y2="348.10" stroke="#2a2a2a" stroke-width="0.75"/>
<rect x="161.57" y="358.72" width="3.60" height="1.88" fill="#1f4e89"/>
<line x1="163.38" y1="357.47" x2="163.38" y2="359.97" stroke="#2a2a2a" stroke-width="0.75"/>
<line x1="162.38" y1="357.47" x2="164.38" y2="357.47" stroke="#2a2a2a" stroke-width="0.75"/>
<line x1="162.38" y1="359.97" x2="164.38" y2="359.97" stroke="#2a2a2a" stroke-width="0.75"/>
<rect x="165.72" y="359.35" width="3.60" height="1.25" fill="#f08522"/>
<line x1="167.53" y1="358.52" x2="167.53" y2="360.18" stroke="#2a2a2a" stroke-width="0.75"/>
<line x1="166.53" y1="358.52" x2="168.53" y2="358.52" stroke="#2a2a2a" stroke-width="0.75"/>
<line x1="166.53" y1="360.18" x2="168.53" y2="360.18" stroke="#2a2a2a" stroke-width="0.75"/>
<rect x="169.88" y="331.95" width="3.60" height="28.66" fill="#bcbcbf"/>
<line x1="171.68" y1="329.34" x2="171.68" y2="334.55" stroke="#2a2a2a" stroke-width="0.75"/>
<line x1="170.68" y1="329.34" x2="172.68" y2="329.34" stroke="#2a2a2a" stroke-width="0.75"/>
<line x1="170.68" y1="334.55" x2="172.68" y2="334.55" stroke="#2a2a2a" stroke-width="0.75"/>
<rect x="174.02" y="354.87" width="3.60" height="5.73" fill="#f9b31d"/>
<line x1="175.82" y1="354.56" x2="175.82" y2="355.18" stroke="#2a2a2a" stroke-width="0.75"/>
<line x1="174.82" y1="354.56" x2="176.82" y2="354.56" stroke="#2a2a2a" stroke-width="0.75"/>
<line x1="174.82" y1="355.18" x2="176.82" y2="355.18" stroke="#2a2a2a" stroke-width="0.75"/>
<path d="M85.00,331.65L85.00,333.95M84.00,332.23L86.00,333.38M84.00,333.38L86.00,332.23" stroke="#222" stroke-width="0.8" fill="none"/>
<path d="M88.20,331.65L88.20,333.95M87.20,332.23L89.20,333.38M87.20,333.38L89.20,332.23" stroke="#222" stroke-width="0.8" fill="none"/>
<path d="M107.70,320.45L107.70,322.75M106.70,321.03L108.70,322.18M106.70,322.18L108.70,321.03" stroke="#222" stroke-width="0.8" fill="none"/>
<path d="M152.10,331.05L152.10,333.35M151.10,331.62L153.10,332.77M151.10,332.77L153.10,331.62" stroke="#222" stroke-width="0.8" fill="none"/>
<path d="M174.70,342.85L174.70,345.15M173.70,343.43L175.70,344.57M173.70,344.57L175.70,343.43" stroke="#222" stroke-width="0.8" fill="none"/>
<path d="M177.90,342.85L177.90,345.15M176.90,343.43L178.90,344.57M176.90,344.57L178.90,343.43" stroke="#222" stroke-width="0.8" fill="none"/>
<text transform="translate(12.80,313.50) rotate(-90)" font-size="9.0" text-anchor="middle" fill="#231f20" stroke="#231f20" textLength="62.5" lengthAdjust="spacingAndGlyphs">BAF47 enrichment</text>
<rect x="50.00" y="267.30" width="4.90" height="4.80" fill="#1f4e89"/>
<text x="57.60" y="272.60" font-size="8.4" fill="#231f20" stroke="#231f20" textLength="26.2" lengthAdjust="spacingAndGlyphs">WT-IgG</text>
<rect x="50.00" y="275.30" width="4.90" height="4.80" fill="#f08522"/>
<text x="57.60" y="280.60" font-size="8.4" fill="#231f20" stroke="#231f20" textLength="26.2" lengthAdjust="spacingAndGlyphs">KO-IgG</text>
<rect x="50.00" y="283.30" width="4.90" height="4.80" fill="#bcbcbf"/>
<text x="57.60" y="288.60" font-size="8.4" fill="#231f20" stroke="#231f20" textLength="11.8" lengthAdjust="spacingAndGlyphs">WT</text>
<rect x="50.00" y="291.30" width="4.90" height="4.80" fill="#f9b31d"/>
<text x="57.60" y="296.60" font-size="8.4" fill="#231f20" stroke="#231f20" textLength="10.8" lengthAdjust="spacingAndGlyphs">KO</text>
<text x="58.00" y="374.50" font-size="8.5" text-anchor="middle" fill="#231f20" stroke="#231f20" textLength="24.3" lengthAdjust="spacingAndGlyphs">Necdin</text>
<text x="82.60" y="374.50" font-size="8.5" text-anchor="middle" fill="#231f20" stroke="#231f20" textLength="14.5" lengthAdjust="spacingAndGlyphs">HS1</text>
<text x="102.70" y="374.50" font-size="8.5" text-anchor="middle" fill="#231f20" stroke="#231f20" textLength="14.5" lengthAdjust="spacingAndGlyphs">HS2</text>
<text x="125.00" y="374.50" font-size="8.5" text-anchor="middle" fill="#231f20" stroke="#231f20" textLength="14.5" lengthAdjust="spacingAndGlyphs">HS3</text>
<text x="147.30" y="374.50" font-size="8.5" text-anchor="middle" fill="#231f20" stroke="#231f20" textLength="14.5" lengthAdjust="spacingAndGlyphs">HS4</text>
<text x="169.50" y="374.50" font-size="8.5" text-anchor="middle" fill="#231f20" stroke="#231f20" textLength="18.7" lengthAdjust="spacingAndGlyphs">γ pro</text>
<text x="183.50" y="265.20" font-size="11.5" font-weight="bold" fill="#000" stroke="#000">F</text>
<text x="289.20" y="262.90" font-size="9.8" fill="#231f20" stroke="#231f20" textLength="28.9" lengthAdjust="spacingAndGlyphs">MNase</text>
<line x1="228.30" y1="279.80" x2="228.30" y2="374.30" stroke="#231f20" stroke-width="1.1"/>
<line x1="227.80" y1="373.80" x2="377.50" y2="373.80" stroke="#231f20" stroke-width="1.1"/>
<line x1="224.30" y1="373.80" x2="228.30" y2="373.80" stroke="#231f20" stroke-width="1.0"/>
<text x="222.50" y="376.80" font-size="8.2" text-anchor="end" fill="#231f20" stroke="#231f20" textLength="15.3" lengthAdjust="spacingAndGlyphs">0.00</text>
<line x1="224.30" y1="362.58" x2="228.30" y2="362.58" stroke="#231f20" stroke-width="1.0"/>
<text x="222.50" y="365.58" font-size="8.2" text-anchor="end" fill="#231f20" stroke="#231f20" textLength="15.3" lengthAdjust="spacingAndGlyphs">0.05</text>
<line x1="224.30" y1="351.36" x2="228.30" y2="351.36" stroke="#231f20" stroke-width="1.0"/>
<text x="222.50" y="354.36" font-size="8.2" text-anchor="end" fill="#231f20" stroke="#231f20" textLength="15.3" lengthAdjust="spacingAndGlyphs">0.10</text>
<line x1="224.30" y1="340.14" x2="228.30" y2="340.14" stroke="#231f20" stroke-width="1.0"/>
<text x="222.50" y="343.14" font-size="8.2" text-anchor="end" fill="#231f20" stroke="#231f20" textLength="15.3" lengthAdjust="spacingAndGlyphs">0.15</text>
<line x1="224.30" y1="328.92" x2="228.30" y2="328.92" stroke="#231f20" stroke-width="1.0"/>
<text x="222.50" y="331.92" font-size="8.2" text-anchor="end" fill="#231f20" stroke="#231f20" textLength="15.3" lengthAdjust="spacingAndGlyphs">0.20</text>
<line x1="224.30" y1="317.70" x2="228.30" y2="317.70" stroke="#231f20" stroke-width="1.0"/>
<text x="222.50" y="320.70" font-size="8.2" text-anchor="end" fill="#231f20" stroke="#231f20" textLength="15.3" lengthAdjust="spacingAndGlyphs">0.25</text>
<line x1="224.30" y1="306.48" x2="228.30" y2="306.48" stroke="#231f20" stroke-width="1.0"/>
<text x="222.50" y="309.48" font-size="8.2" text-anchor="end" fill="#231f20" stroke="#231f20" textLength="15.3" lengthAdjust="spacingAndGlyphs">0.30</text>
<line x1="224.30" y1="295.26" x2="228.30" y2="295.26" stroke="#231f20" stroke-width="1.0"/>
<text x="222.50" y="298.26" font-size="8.2" text-anchor="end" fill="#231f20" stroke="#231f20" textLength="15.3" lengthAdjust="spacingAndGlyphs">0.35</text>
<line x1="224.30" y1="284.04" x2="228.30" y2="284.04" stroke="#231f20" stroke-width="1.0"/>
<text x="222.50" y="287.04" font-size="8.2" text-anchor="end" fill="#231f20" stroke="#231f20" textLength="15.3" lengthAdjust="spacingAndGlyphs">0.40</text>
<text transform="translate(201.60,325.80) rotate(-90)" font-size="8.9" text-anchor="middle" fill="#231f20" stroke="#231f20" textLength="85.6" lengthAdjust="spacingAndGlyphs">Relative MNase resistance</text>
<line x1="237.30" y1="373.80" x2="237.30" y2="377.00" stroke="#231f20" stroke-width="1.0"/>
<text transform="translate(241.30,381.60) rotate(-45)" font-size="8.4" text-anchor="end" fill="#231f20" stroke="#231f20">GAPDH</text>
<line x1="256.00" y1="373.80" x2="256.00" y2="377.00" stroke="#231f20" stroke-width="1.0"/>
<text transform="translate(260.00,381.60) rotate(-45)" font-size="8.4" text-anchor="end" fill="#231f20" stroke="#231f20">HS4</text>
<line x1="274.70" y1="373.80" x2="274.70" y2="377.00" stroke="#231f20" stroke-width="1.0"/>
<text transform="translate(278.70,381.60) rotate(-45)" font-size="8.4" text-anchor="end" fill="#231f20" stroke="#231f20">HS3</text>
<line x1="293.20" y1="373.80" x2="293.20" y2="377.00" stroke="#231f20" stroke-width="1.0"/>
<text transform="translate(297.20,381.60) rotate(-45)" font-size="8.4" text-anchor="end" fill="#231f20" stroke="#231f20">HS2</text>
<line x1="311.80" y1="373.80" x2="311.80" y2="377.00" stroke="#231f20" stroke-width="1.0"/>
<text transform="translate(315.80,381.60) rotate(-45)" font-size="8.4" text-anchor="end" fill="#231f20" stroke="#231f20">HS1</text>
<line x1="330.50" y1="373.80" x2="330.50" y2="377.00" stroke="#231f20" stroke-width="1.0"/>
<text transform="translate(334.50,381.60) rotate(-45)" font-size="8.4" text-anchor="end" fill="#231f20" stroke="#231f20">γ pro</text>
<line x1="349.10" y1="373.80" x2="349.10" y2="377.00" stroke="#231f20" stroke-width="1.0"/>
<text transform="translate(353.10,381.60) rotate(-45)" font-size="8.4" text-anchor="end" fill="#231f20" stroke="#231f20">γ TSS</text>
<line x1="367.80" y1="373.80" x2="367.80" y2="377.00" stroke="#231f20" stroke-width="1.0"/>
<text transform="translate(371.80,381.60) rotate(-45)" font-size="8.4" text-anchor="end" fill="#231f20" stroke="#231f20">γ exon</text>
<line x1="234.00" y1="349.12" x2="234.00" y2="369.99" stroke="#c8102e" stroke-width="0.9"/>
<line x1="232.40" y1="349.12" x2="235.60" y2="349.12" stroke="#c8102e" stroke-width="0.9"/>
<line x1="232.40" y1="369.99" x2="235.60" y2="369.99" stroke="#c8102e" stroke-width="0.9"/>
<circle cx="234.00" cy="359.44" r="1.9" fill="#c8102e"/>
<line x1="240.90" y1="353.38" x2="240.90" y2="370.43" stroke="#1f4e89" stroke-width="0.9"/>
<line x1="239.30" y1="353.38" x2="242.50" y2="353.38" stroke="#1f4e89" stroke-width="0.9"/>
<line x1="239.30" y1="370.43" x2="242.50" y2="370.43" stroke="#1f4e89" stroke-width="0.9"/>
<rect x="239.05" y="359.83" width="3.70" height="3.70" fill="#1f4e89"/>
<circle cx="252.70" cy="369.76" r="1.9" fill="#c8102e"/>
<line x1="259.60" y1="359.89" x2="259.60" y2="368.19" stroke="#1f4e89" stroke-width="0.9"/>
<line x1="258.00" y1="359.89" x2="261.20" y2="359.89" stroke="#1f4e89" stroke-width="0.9"/>
<line x1="258.00" y1="368.19" x2="261.20" y2="368.19" stroke="#1f4e89" stroke-width="0.9"/>
<rect x="257.75" y="362.30" width="3.70" height="3.70" fill="#1f4e89"/>
<circle cx="271.40" cy="370.88" r="1.9" fill="#c8102e"/>
<rect x="276.45" y="365.22" width="3.70" height="3.70" fill="#1f4e89"/>
<line x1="289.90" y1="348.67" x2="289.90" y2="359.21" stroke="#c8102e" stroke-width="0.9"/>
<line x1="288.30" y1="348.67" x2="291.50" y2="348.67" stroke="#c8102e" stroke-width="0.9"/>
<line x1="288.30" y1="359.21" x2="291.50" y2="359.21" stroke="#c8102e" stroke-width="0.9"/>
<circle cx="289.90" cy="354.05" r="1.9" fill="#c8102e"/>
<line x1="296.80" y1="332.29" x2="296.80" y2="355.40" stroke="#1f4e89" stroke-width="0.9"/>
<line x1="295.20" y1="332.29" x2="298.40" y2="332.29" stroke="#1f4e89" stroke-width="0.9"/>
<line x1="295.20" y1="355.40" x2="298.40" y2="355.40" stroke="#1f4e89" stroke-width="0.9"/>
<rect x="294.95" y="341.88" width="3.70" height="3.70" fill="#1f4e89"/>
<line x1="308.50" y1="363.25" x2="308.50" y2="369.99" stroke="#c8102e" stroke-width="0.9"/>
<line x1="306.90" y1="363.25" x2="310.10" y2="363.25" stroke="#c8102e" stroke-width="0.9"/>
<line x1="306.90" y1="369.99" x2="310.10" y2="369.99" stroke="#c8102e" stroke-width="0.9"/>
<circle cx="308.50" cy="367.07" r="1.9" fill="#c8102e"/>
<line x1="315.40" y1="347.99" x2="315.40" y2="355.62" stroke="#1f4e89" stroke-width="0.9"/>
<line x1="313.80" y1="347.99" x2="317.00" y2="347.99" stroke="#1f4e89" stroke-width="0.9"/>
<line x1="313.80" y1="355.62" x2="317.00" y2="355.62" stroke="#1f4e89" stroke-width="0.9"/>
<rect x="313.55" y="349.73" width="3.70" height="3.70" fill="#1f4e89"/>
<circle cx="327.20" cy="372.90" r="1.9" fill="#c8102e"/>
<rect x="332.25" y="368.81" width="3.70" height="3.70" fill="#1f4e89"/>
<line x1="345.80" y1="360.78" x2="345.80" y2="370.88" stroke="#c8102e" stroke-width="0.9"/>
<line x1="344.20" y1="360.78" x2="347.40" y2="360.78" stroke="#c8102e" stroke-width="0.9"/>
<line x1="344.20" y1="370.88" x2="347.40" y2="370.88" stroke="#c8102e" stroke-width="0.9"/>
<circle cx="345.80" cy="366.17" r="1.9" fill="#c8102e"/>
<line x1="352.70" y1="353.38" x2="352.70" y2="364.15" stroke="#1f4e89" stroke-width="0.9"/>
<line x1="351.10" y1="353.38" x2="354.30" y2="353.38" stroke="#1f4e89" stroke-width="0.9"/>
<line x1="351.10" y1="364.15" x2="354.30" y2="364.15" stroke="#1f4e89" stroke-width="0.9"/>
<rect x="350.85" y="356.69" width="3.70" height="3.70" fill="#1f4e89"/>
<line x1="364.50" y1="319.27" x2="364.50" y2="341.26" stroke="#c8102e" stroke-width="0.9"/>
<line x1="362.90" y1="319.27" x2="366.10" y2="319.27" stroke="#c8102e" stroke-width="0.9"/>
<line x1="362.90" y1="341.26" x2="366.10" y2="341.26" stroke="#c8102e" stroke-width="0.9"/>
<circle cx="364.50" cy="330.27" r="1.9" fill="#c8102e"/>
<line x1="371.40" y1="295.71" x2="371.40" y2="311.42" stroke="#1f4e89" stroke-width="0.9"/>
<line x1="369.80" y1="295.71" x2="373.00" y2="295.71" stroke="#1f4e89" stroke-width="0.9"/>
<line x1="369.80" y1="311.42" x2="373.00" y2="311.42" stroke="#1f4e89" stroke-width="0.9"/>
<rect x="369.55" y="301.26" width="3.70" height="3.70" fill="#1f4e89"/>
<path d="M231.20,346.90 V341.80 H240.70 V346.90" fill="none" stroke="#333" stroke-width="0.9"/>
<text x="229.60" y="339.70" font-size="7.6" fill="#231f20" stroke="#231f20" textLength="20.0" lengthAdjust="spacingAndGlyphs">P=0.78</text>
<path d="M250.00,358.50 V353.00 H260.00 V358.50" fill="none" stroke="#333" stroke-width="0.9"/>
<text x="243.80" y="348.50" font-size="7.6" fill="#231f20" stroke="#231f20" textLength="23.5" lengthAdjust="spacingAndGlyphs">P=0.035</text>
<path d="M269.30,363.00 V358.20 H278.80 V363.00" fill="none" stroke="#333" stroke-width="0.9"/>
<text x="262.70" y="355.40" font-size="7.6" fill="#231f20" stroke="#231f20" textLength="23.5" lengthAdjust="spacingAndGlyphs">P=0.016</text>
<path d="M287.80,328.50 V323.40 H297.30 V328.50" fill="none" stroke="#333" stroke-width="0.9"/>
<text x="283.20" y="320.50" font-size="7.6" fill="#231f20" stroke="#231f20" textLength="19.5" lengthAdjust="spacingAndGlyphs">P=0.23</text>
<path d="M306.80,344.10 V339.50 H316.60 V344.10" fill="none" stroke="#333" stroke-width="0.9"/>
<text x="301.60" y="335.50" font-size="7.6" fill="#231f20" stroke="#231f20" textLength="23.7" lengthAdjust="spacingAndGlyphs">P=0.006</text>
<path d="M326.20,365.40 V360.60 H335.70 V365.40" fill="none" stroke="#333" stroke-width="0.9"/>
<text x="320.00" y="358.00" font-size="7.6" fill="#231f20" stroke="#231f20" textLength="23.8" lengthAdjust="spacingAndGlyphs">P=0.049</text>
<path d="M344.70,350.20 V345.30 H354.70 V350.20" fill="none" stroke="#333" stroke-width="0.9"/>
<text x="339.70" y="342.40" font-size="7.6" fill="#231f20" stroke="#231f20" textLength="20.2" lengthAdjust="spacingAndGlyphs">P=0.16</text>
<path d="M362.20,293.20 V287.70 H372.30 V293.20" fill="none" stroke="#333" stroke-width="0.9"/>
<text x="352.90" y="284.60" font-size="7.6" fill="#231f20" stroke="#231f20" textLength="24.0" lengthAdjust="spacingAndGlyphs">P=0.023</text>
<circle cx="236.6" cy="281.3" r="1.9" fill="#c8102e"/>
<rect x="235.00" y="287.20" width="3.60" height="3.60" fill="#1f4e89"/>
<text x="241.00" y="283.90" font-size="8.6" fill="#231f20" stroke="#231f20" textLength="11.7" lengthAdjust="spacingAndGlyphs">WT</text>
<text x="241.00" y="291.30" font-size="8.6" fill="#231f20" stroke="#231f20" textLength="11.5" lengthAdjust="spacingAndGlyphs">KO</text>
<text x="382.30" y="264.90" font-size="11.5" font-weight="bold" fill="#000" stroke="#000">G</text>
<text x="416.60" y="284.60" font-size="9.6" fill="#231f20" stroke="#231f20" textLength="88.0" lengthAdjust="spacingAndGlyphs">H3K27ac enrichment</text>
<text x="408.50" y="295.90" font-size="9.6" fill="#231f20" stroke="#231f20" textLength="96.1" lengthAdjust="spacingAndGlyphs">down-regulated genes</text>
<rect x="407.7" y="299.6" width="101.10000000000002" height="55.89999999999998" fill="none" stroke="#231f20" stroke-width="1.1"/>
<line x1="404.20" y1="348.35" x2="407.70" y2="348.35" stroke="#231f20" stroke-width="1.0"/>
<text x="402.70" y="351.55" font-size="8.6" text-anchor="end" fill="#231f20" stroke="#231f20">5</text>
<line x1="404.20" y1="338.10" x2="407.70" y2="338.10" stroke="#231f20" stroke-width="1.0"/>
<text x="402.70" y="341.30" font-size="8.6" text-anchor="end" fill="#231f20" stroke="#231f20">10</text>
<line x1="404.20" y1="327.85" x2="407.70" y2="327.85" stroke="#231f20" stroke-width="1.0"/>
<text x="402.70" y="331.05" font-size="8.6" text-anchor="end" fill="#231f20" stroke="#231f20">15</text>
<line x1="404.20" y1="317.60" x2="407.70" y2="317.60" stroke="#231f20" stroke-width="1.0"/>
<text x="402.70" y="320.80" font-size="8.6" text-anchor="end" fill="#231f20" stroke="#231f20">20</text>
<line x1="404.20" y1="307.35" x2="407.70" y2="307.35" stroke="#231f20" stroke-width="1.0"/>
<text x="402.70" y="310.55" font-size="8.6" text-anchor="end" fill="#231f20" stroke="#231f20">25</text>
<line x1="407.70" y1="355.50" x2="407.70" y2="358.50" stroke="#231f20" stroke-width="1.0"/>
<line x1="458.20" y1="355.50" x2="458.20" y2="358.50" stroke="#231f20" stroke-width="1.0"/>
<line x1="508.80" y1="355.50" x2="508.80" y2="358.50" stroke="#231f20" stroke-width="1.0"/>
<text x="405.60" y="366.30" font-size="8.6" fill="#231f20" stroke="#231f20" textLength="14.8" lengthAdjust="spacingAndGlyphs">–3.0</text>
<text x="452.20" y="366.30" font-size="8.6" fill="#231f20" stroke="#231f20" textLength="12.6" lengthAdjust="spacingAndGlyphs">TSS</text>
<text x="492.50" y="366.30" font-size="8.6" fill="#231f20" stroke="#231f20" textLength="20.8" lengthAdjust="spacingAndGlyphs">3.0Kb</text>
<text transform="translate(388.80,329.80) rotate(-90)" font-size="8.4" text-anchor="middle" fill="#231f20" stroke="#231f20" textLength="59.0" lengthAdjust="spacingAndGlyphs">Scaled read count</text>
<path d="M408.20,348.19 L408.58,348.21 L409.10,348.29 L409.73,348.17 L410.41,348.17 L411.12,348.17 L411.81,348.04 L412.45,348.07 L413.00,348.03 L413.46,347.98 L413.88,347.68 L414.26,347.60 L414.61,347.39 L414.95,347.41 L415.29,347.23 L415.64,346.92 L416.00,347.02 L416.37,346.89 L416.73,346.69 L417.08,346.55 L417.44,346.32 L417.80,346.17 L418.18,346.19 L418.58,345.98 L419.00,345.92 L419.46,345.87 L419.95,345.76 L420.47,345.83 L421.00,345.79 L421.53,345.86 L422.05,345.74 L422.54,345.71 L423.00,345.60 L423.42,345.56 L423.80,345.44 L424.15,345.33 L424.50,345.42 L424.85,345.32 L425.20,345.13 L425.58,344.91 L426.00,344.55 L426.44,344.22 L426.90,343.88 L427.37,343.42 L427.86,343.15 L428.36,342.59 L428.89,342.19 L429.43,341.54 L430.00,341.11 L430.60,340.49 L431.25,339.63 L431.92,339.01 L432.61,338.48 L433.30,337.64 L433.99,337.02 L434.66,336.13 L435.30,335.29 L435.91,334.69 L436.50,333.98 L437.08,333.11 L437.64,332.30 L438.21,331.57 L438.79,330.90 L439.38,329.98 L440.00,328.90 L440.65,327.96 L441.34,326.90 L442.05,325.83 L442.77,324.91 L443.48,323.63 L444.16,322.57 L444.81,321.37 L445.40,320.12 L445.95,319.02 L446.46,317.54 L446.95,316.29 L447.41,314.78 L447.85,313.50 L448.25,312.16 L448.64,310.99 L449.00,310.12 L449.33,309.16 L449.63,308.20 L449.89,307.59 L450.14,306.74 L450.36,306.18 L450.58,305.76 L450.79,305.24 L451.00,304.70 L451.20,304.59 L451.38,304.14 L451.55,303.97 L451.71,303.99 L451.87,303.82 L452.04,303.81 L452.21,303.81 L452.40,303.90 L452.61,304.14 L452.82,304.21 L453.05,304.50 L453.27,304.70 L453.51,305.04 L453.74,305.56 L453.97,305.92 L454.20,306.52 L454.43,307.29 L454.66,307.94 L454.90,308.86 L455.13,310.04 L455.36,311.05 L455.59,311.95 L455.80,312.95 L456.00,314.06 L456.19,315.10 L456.37,315.96 L456.54,317.23 L456.70,318.28 L456.86,319.23 L457.01,320.10 L457.16,320.80 L457.30,321.38 L457.44,322.06 L457.56,322.20 L457.68,322.54 L457.80,322.53 L457.92,322.68 L458.04,322.52 L458.16,322.24 L458.30,321.92 L458.44,321.64 L458.59,320.94 L458.74,320.33 L458.89,319.67 L459.06,318.92 L459.23,317.96 L459.41,316.93 L459.60,316.10 L459.81,314.82 L460.03,313.51 L460.27,312.20 L460.51,310.84 L460.76,309.35 L461.01,308.06 L461.26,306.94 L461.50,306.02 L461.74,305.12 L461.98,304.50 L462.22,304.06 L462.46,303.61 L462.69,303.14 L462.93,302.85 L463.17,302.59 L463.40,302.31 L463.63,302.20 L463.85,302.20 L464.06,302.52 L464.27,302.63 L464.49,302.93 L464.72,302.98 L464.95,303.47 L465.20,303.80 L465.46,304.28 L465.74,304.67 L466.03,305.40 L466.33,305.78 L466.63,306.53 L466.93,307.24 L467.22,307.94 L467.50,308.56 L467.77,309.20 L468.02,309.88 L468.27,310.58 L468.51,311.12 L468.76,311.91 L469.02,312.70 L469.30,313.47 L469.60,314.18 L469.93,315.16 L470.28,316.12 L470.65,317.05 L471.03,318.08 L471.41,319.05 L471.78,320.11 L472.15,321.10 L472.50,321.90 L472.83,322.93 L473.15,323.90 L473.47,324.74 L473.77,325.54 L474.08,326.27 L474.38,327.14 L474.69,327.84 L475.00,328.49 L475.30,329.20 L475.58,329.57 L475.86,330.25 L476.14,330.54 L476.43,331.14 L476.75,331.56 L477.10,331.95 L477.50,332.55 L477.95,333.00 L478.45,333.53 L478.99,334.11 L479.54,334.45 L480.12,334.88 L480.69,335.43 L481.25,336.00 L481.80,336.33 L482.32,336.74 L482.82,337.33 L483.31,337.65 L483.80,337.97 L484.30,338.46 L484.83,338.69 L485.39,339.15 L486.00,339.42 L486.67,339.90 L487.40,340.44 L488.17,340.93 L488.96,341.38 L489.74,341.69 L490.51,342.15 L491.24,342.45 L491.90,342.71 L492.50,343.04 L493.05,343.30 L493.57,343.44 L494.07,343.52 L494.55,343.66 L495.02,343.57 L495.50,343.62 L496.00,343.79 L496.50,343.84 L497.01,343.91 L497.51,344.03 L498.01,344.15 L498.50,344.19 L499.00,344.23 L499.50,344.46 L500.00,344.62 L500.50,344.64 L501.00,344.72 L501.49,344.91 L501.99,345.32 L502.49,345.32 L502.99,345.69 L503.49,345.85 L504.00,345.95 L504.54,346.23 L505.13,346.19 L505.74,346.36 L506.35,346.58 L506.92,346.60 L507.44,346.91 L507.87,346.86 L508.20,346.91" fill="none" stroke="#3cb44b" stroke-width="1.35" stroke-linejoin="round"/>
<path d="M408.20,352.73 L408.50,353.10 L408.90,353.04 L409.38,353.20 L409.91,353.27 L410.47,353.40 L411.02,353.52 L411.54,353.35 L412.00,353.02 L412.41,353.10 L412.81,352.79 L413.18,352.53 L413.55,352.63 L413.91,352.59 L414.27,352.09 L414.63,351.99 L415.00,351.91 L415.38,352.02 L415.75,351.81 L416.12,351.79 L416.50,351.80 L416.88,351.52 L417.25,351.71 L417.62,351.75 L418.00,351.25 L418.37,351.78 L418.73,351.70 L419.08,351.41 L419.44,351.68 L419.80,351.87 L420.18,352.13 L420.58,351.88 L421.00,352.04 L421.45,352.27 L421.91,352.28 L422.38,352.43 L422.88,352.19 L423.38,352.33 L423.91,352.06 L424.45,352.33 L425.00,352.29 L425.58,352.04 L426.17,351.89 L426.79,351.36 L427.42,351.51 L428.06,351.28 L428.71,350.96 L429.35,350.37 L430.00,350.17 L430.65,349.53 L431.32,349.50 L431.99,349.07 L432.67,348.34 L433.34,347.73 L434.01,347.48 L434.66,347.05 L435.30,346.66 L435.91,345.95 L436.50,345.12 L437.08,345.01 L437.64,343.96 L438.21,343.77 L438.79,342.74 L439.38,342.14 L440.00,341.67 L440.65,340.50 L441.34,339.66 L442.05,338.99 L442.77,338.20 L443.48,337.34 L444.16,336.32 L444.81,335.56 L445.40,334.40 L445.95,333.77 L446.46,332.33 L446.94,331.47 L447.39,330.73 L447.82,329.69 L448.23,329.10 L448.62,328.27 L449.00,327.51 L449.36,327.10 L449.69,326.39 L450.00,325.75 L450.29,325.36 L450.57,325.26 L450.83,324.96 L451.07,324.26 L451.30,324.41 L451.51,324.29 L451.68,323.88 L451.83,323.82 L451.98,323.56 L452.11,323.76 L452.26,323.79 L452.42,323.94 L452.60,323.72 L452.81,324.44 L453.03,324.37 L453.27,324.55 L453.51,325.07 L453.76,325.26 L454.01,325.60 L454.26,326.14 L454.50,326.24 L454.74,327.09 L454.99,327.68 L455.24,328.74 L455.49,329.49 L455.74,329.86 L455.97,330.73 L456.20,331.20 L456.40,331.96 L456.58,332.70 L456.75,333.24 L456.90,333.44 L457.04,333.75 L457.18,334.02 L457.32,334.56 L457.45,334.94 L457.60,334.58 L457.75,334.99 L457.89,334.49 L458.02,334.46 L458.16,334.29 L458.31,334.30 L458.46,333.75 L458.62,333.37 L458.80,333.07 L459.00,332.20 L459.21,331.90 L459.44,330.77 L459.67,330.18 L459.91,329.18 L460.14,328.31 L460.38,327.73 L460.60,326.96 L460.82,326.27 L461.04,325.63 L461.25,325.05 L461.47,324.21 L461.68,323.67 L461.89,323.40 L462.10,322.95 L462.30,322.52 L462.50,322.43 L462.68,322.08 L462.87,322.08 L463.05,321.62 L463.23,321.89 L463.42,321.92 L463.60,322.00 L463.80,321.69 L464.00,321.75 L464.20,322.22 L464.41,321.94 L464.62,322.58 L464.83,322.71 L465.05,322.48 L465.27,322.79 L465.50,323.34 L465.73,323.34 L465.98,323.57 L466.22,324.37 L466.48,324.50 L466.73,325.10 L466.99,325.08 L467.24,325.61 L467.50,326.11 L467.75,326.01 L468.00,326.37 L468.25,326.90 L468.49,327.28 L468.75,327.56 L469.02,327.34 L469.30,327.90 L469.60,328.45 L469.92,328.78 L470.26,329.42 L470.62,329.71 L470.98,330.26 L471.36,330.92 L471.74,331.51 L472.12,332.44 L472.50,333.01 L472.89,333.61 L473.29,333.94 L473.70,334.54 L474.11,335.12 L474.52,336.06 L474.92,336.69 L475.32,337.17 L475.70,337.16 L476.07,337.59 L476.42,338.54 L476.76,338.64 L477.09,339.20 L477.43,339.30 L477.77,339.74 L478.13,340.14 L478.50,340.46 L478.88,340.94 L479.27,340.98 L479.66,341.77 L480.06,342.24 L480.47,342.22 L480.90,342.76 L481.34,343.29 L481.80,343.44 L482.27,343.65 L482.75,343.96 L483.23,344.48 L483.74,344.49 L484.26,345.32 L484.81,345.57 L485.39,345.81 L486.00,346.22 L486.67,346.40 L487.40,346.60 L488.17,347.06 L488.96,347.35 L489.74,347.96 L490.51,348.16 L491.24,348.11 L491.90,348.75 L492.50,348.85 L493.05,349.03 L493.57,349.19 L494.07,349.06 L494.55,349.46 L495.02,349.54 L495.50,349.52 L496.00,349.66 L496.51,349.75 L497.02,349.61 L497.53,349.87 L498.04,349.55 L498.54,349.78 L499.04,349.92 L499.52,349.72 L500.00,350.01 L500.47,350.27 L500.95,350.34 L501.42,350.19 L501.88,350.70 L502.32,350.64 L502.74,350.57 L503.14,350.91 L503.50,351.04 L503.82,351.27 L504.09,351.50 L504.33,352.23 L504.55,352.39 L504.76,352.79 L504.99,353.15 L505.23,353.53 L505.50,353.11 L505.82,353.52 L506.19,353.55 L506.58,353.15 L506.98,353.09 L507.35,352.71 L507.70,352.64 L507.99,352.61 L508.20,352.36" fill="none" stroke="#5b1f7a" stroke-width="1.35" stroke-linejoin="round"/>
<line x1="484.30" y1="305.80" x2="490.80" y2="305.80" stroke="#3cb44b" stroke-width="1.4"/>
<line x1="484.30" y1="313.80" x2="490.80" y2="313.80" stroke="#5b1f7a" stroke-width="1.4"/>
<text x="493.00" y="309.00" font-size="8.6" fill="#231f20" stroke="#231f20" textLength="11.3" lengthAdjust="spacingAndGlyphs">WT</text>
<text x="493.00" y="317.00" font-size="8.6" fill="#231f20" stroke="#231f20" textLength="11.0" lengthAdjust="spacingAndGlyphs">KO</text>
<text x="66.90" y="414.80" font-size="11.5" font-weight="bold" fill="#000" stroke="#000">H</text>
<text x="141.20" y="415.70" font-size="9.0" fill="#231f20" stroke="#231f20" textLength="18.8" lengthAdjust="spacingAndGlyphs">Scale</text>
<text x="141.20" y="425.00" font-size="9.0" fill="#231f20" stroke="#231f20" textLength="21.6" lengthAdjust="spacingAndGlyphs">chr11:</text>
<line x1="163.00" y1="412.00" x2="163.00" y2="598.00" stroke="#f4d8d8" stroke-width="0.6"/>
<text x="262.00" y="418.50" font-size="8.6" fill="#231f20" stroke="#231f20" textLength="19.2" lengthAdjust="spacingAndGlyphs">20 kb</text>
<line x1="282.30" y1="415.50" x2="353.40" y2="415.50" stroke="#222" stroke-width="0.9"/>
<line x1="282.30" y1="412.20" x2="282.30" y2="418.00" stroke="#333" stroke-width="0.9"/>
<line x1="353.40" y1="412.20" x2="353.40" y2="418.00" stroke="#333" stroke-width="0.9"/>
<text x="355.00" y="418.50" font-size="8.6" fill="#231f20" stroke="#231f20" textLength="17.0" lengthAdjust="spacingAndGlyphs">hg38</text>
<line x1="207.80" y1="419.80" x2="207.80" y2="422.80" stroke="#444" stroke-width="0.8"/>
<text x="205.90" y="430.80" font-size="8.8" text-anchor="middle" fill="#231f20" stroke="#231f20" textLength="35.0" lengthAdjust="spacingAndGlyphs">5,230,000</text>
<line x1="278.20" y1="419.80" x2="278.20" y2="422.80" stroke="#444" stroke-width="0.8"/>
<text x="276.30" y="430.80" font-size="8.8" text-anchor="middle" fill="#231f20" stroke="#231f20" textLength="35.0" lengthAdjust="spacingAndGlyphs">5,250,000</text>
<line x1="348.80" y1="419.80" x2="348.80" y2="422.80" stroke="#444" stroke-width="0.8"/>
<text x="346.90" y="430.80" font-size="8.8" text-anchor="middle" fill="#231f20" stroke="#231f20" textLength="35.0" lengthAdjust="spacingAndGlyphs">5,270,000</text>
<line x1="419.30" y1="419.80" x2="419.30" y2="422.80" stroke="#444" stroke-width="0.8"/>
<text x="417.40" y="430.80" font-size="8.8" text-anchor="middle" fill="#231f20" stroke="#231f20" textLength="35.0" lengthAdjust="spacingAndGlyphs">5,290,000</text>
<text x="187.20" y="448.30" font-size="8.8" fill="#231f20" stroke="#231f20" textLength="15.0" lengthAdjust="spacingAndGlyphs">HBB</text>
<line x1="192.30" y1="439.20" x2="196.80" y2="439.20" stroke="#4a90c8" stroke-width="0.6"/>
<ellipse cx="192.40" cy="439.20" rx="1.1" ry="1.45" fill="#111"/>
<ellipse cx="196.10" cy="439.20" rx="1.3" ry="1.5" fill="#111"/>
<text x="213.80" y="448.30" font-size="8.8" fill="#231f20" stroke="#231f20" textLength="15.9" lengthAdjust="spacingAndGlyphs">HBD</text>
<line x1="218.20" y1="439.20" x2="222.70" y2="439.20" stroke="#4a90c8" stroke-width="0.6"/>
<ellipse cx="218.30" cy="439.20" rx="1.1" ry="1.45" fill="#444"/>
<ellipse cx="222.00" cy="439.20" rx="1.3" ry="1.5" fill="#444"/>
<text x="266.30" y="443.90" font-size="8.8" fill="#231f20" stroke="#231f20" textLength="20.3" lengthAdjust="spacingAndGlyphs">HBG1</text>
<line x1="272.70" y1="435.20" x2="277.20" y2="435.20" stroke="#4a90c8" stroke-width="0.6"/>
<ellipse cx="272.80" cy="435.20" rx="1.1" ry="1.45" fill="#111"/>
<ellipse cx="276.50" cy="435.20" rx="1.3" ry="1.5" fill="#111"/>
<text x="287.40" y="448.80" font-size="8.8" fill="#231f20" stroke="#231f20" textLength="20.3" lengthAdjust="spacingAndGlyphs">HBG2</text>
<line x1="290.20" y1="440.20" x2="294.70" y2="440.20" stroke="#4a90c8" stroke-width="0.6"/>
<ellipse cx="290.30" cy="440.20" rx="1.1" ry="1.45" fill="#444"/>
<ellipse cx="294.00" cy="440.20" rx="1.3" ry="1.5" fill="#444"/>
<text x="336.40" y="448.60" font-size="8.8" fill="#231f20" stroke="#231f20" textLength="18.5" lengthAdjust="spacingAndGlyphs">HBE1</text>
<line x1="343.70" y1="439.80" x2="348.20" y2="439.80" stroke="#4a90c8" stroke-width="0.6"/>
<ellipse cx="343.80" cy="439.80" rx="1.1" ry="1.45" fill="#111"/>
<ellipse cx="347.50" cy="439.80" rx="1.3" ry="1.5" fill="#111"/>
<text x="240.80" y="448.30" font-size="8.8" fill="#2e6aa8" stroke="#2e6aa8" textLength="24.2" lengthAdjust="spacingAndGlyphs">BGLT3</text>
<rect x="259.00" y="437.90" width="3.60" height="1.40" fill="#1f4e89"/>
<text x="79.00" y="464.00" font-size="8.6" fill="#3db4e8" stroke="#3db4e8" textLength="45.8" lengthAdjust="spacingAndGlyphs">WT RNA-seq</text>
<text x="79.00" y="473.90" font-size="8.6" fill="#f5a043" stroke="#f5a043" textLength="45.3" lengthAdjust="spacingAndGlyphs">KO RNA-seq</text>
<text x="85.00" y="486.70" font-size="8.6" fill="#231f20" stroke="#231f20" textLength="32.1" lengthAdjust="spacingAndGlyphs">Input WT</text>
<text x="85.00" y="501.70" font-size="8.6" fill="#231f20" stroke="#231f20" textLength="31.7" lengthAdjust="spacingAndGlyphs">Input KO</text>
<text x="81.20" y="517.20" font-size="8.6" fill="#5e2d80" stroke="#5e2d80" textLength="46.5" lengthAdjust="spacingAndGlyphs">WT-H3K27ac</text>
<text x="81.20" y="526.60" font-size="8.6" fill="#a3c68a" stroke="#a3c68a" textLength="46.5" lengthAdjust="spacingAndGlyphs">KO-H3K27ac</text>
<text x="84.40" y="540.90" font-size="8.6" fill="#cc2440" stroke="#cc2440" textLength="36.6" lengthAdjust="spacingAndGlyphs">ATAC-seq</text>
<text x="94.60" y="560.90" font-size="8.6" fill="#f5a043" stroke="#f5a043" textLength="17.7" lengthAdjust="spacingAndGlyphs">TAL1</text>
<text x="94.60" y="578.70" font-size="8.6" fill="#4cb85a" stroke="#4cb85a" textLength="18.1" lengthAdjust="spacingAndGlyphs">LDB1</text>
<text x="81.20" y="592.30" font-size="8.6" fill="#231f20" stroke="#231f20" textLength="44.2" lengthAdjust="spacingAndGlyphs">ChromHMM</text>
<text x="155.30" y="462.15" font-size="7.0" text-anchor="end" fill="#231f20" stroke="#231f20" textLength="25.3" lengthAdjust="spacingAndGlyphs">120000</text>
<line x1="156.80" y1="459.10" x2="162.40" y2="459.10" stroke="#231f20" stroke-width="1.0"/>
<text x="155.30" y="474.85" font-size="7.0" text-anchor="end" fill="#231f20" stroke="#231f20">0</text>
<line x1="156.80" y1="472.50" x2="162.40" y2="472.50" stroke="#231f20" stroke-width="1.0"/>
<text x="155.30" y="481.35" font-size="7.0" text-anchor="end" fill="#231f20" stroke="#231f20">5</text>
<line x1="156.80" y1="477.40" x2="162.40" y2="477.40" stroke="#231f20" stroke-width="1.0"/>
<text x="155.30" y="493.35" font-size="7.0" text-anchor="end" fill="#231f20" stroke="#231f20">0</text>
<line x1="156.80" y1="491.00" x2="162.40" y2="491.00" stroke="#231f20" stroke-width="1.0"/>
<text x="155.30" y="499.85" font-size="7.0" text-anchor="end" fill="#231f20" stroke="#231f20">5</text>
<line x1="156.80" y1="495.90" x2="162.40" y2="495.90" stroke="#231f20" stroke-width="1.0"/>
<text x="155.30" y="511.95" font-size="7.0" text-anchor="end" fill="#231f20" stroke="#231f20">0</text>
<line x1="156.80" y1="509.60" x2="162.40" y2="509.60" stroke="#231f20" stroke-width="1.0"/>
<text x="155.30" y="518.55" font-size="7.0" text-anchor="end" fill="#231f20" stroke="#231f20">5</text>
<line x1="156.80" y1="514.60" x2="162.40" y2="514.60" stroke="#231f20" stroke-width="1.0"/>
<text x="155.30" y="530.35" font-size="7.0" text-anchor="end" fill="#231f20" stroke="#231f20">0</text>
<line x1="156.80" y1="528.00" x2="162.40" y2="528.00" stroke="#231f20" stroke-width="1.0"/>
<text x="155.30" y="535.85" font-size="7.0" text-anchor="end" fill="#231f20" stroke="#231f20" textLength="10.6" lengthAdjust="spacingAndGlyphs">150</text>
<line x1="156.80" y1="532.60" x2="162.40" y2="532.60" stroke="#231f20" stroke-width="1.0"/>
<text x="155.30" y="548.45" font-size="7.0" text-anchor="end" fill="#231f20" stroke="#231f20">0</text>
<line x1="156.80" y1="546.10" x2="162.40" y2="546.10" stroke="#231f20" stroke-width="1.0"/>
<text x="155.30" y="554.35" font-size="7.0" text-anchor="end" fill="#231f20" stroke="#231f20" textLength="10.6" lengthAdjust="spacingAndGlyphs">100</text>
<line x1="156.80" y1="550.60" x2="162.40" y2="550.60" stroke="#231f20" stroke-width="1.0"/>
<text x="155.30" y="566.65" font-size="7.0" text-anchor="end" fill="#231f20" stroke="#231f20">0</text>
<line x1="156.80" y1="564.30" x2="162.40" y2="564.30" stroke="#231f20" stroke-width="1.0"/>
<text x="155.30" y="573.05" font-size="7.0" text-anchor="end" fill="#231f20" stroke="#231f20" textLength="7.2" lengthAdjust="spacingAndGlyphs">30</text>
<line x1="156.80" y1="569.40" x2="162.40" y2="569.40" stroke="#231f20" stroke-width="1.0"/>
<text x="155.30" y="584.85" font-size="7.0" text-anchor="end" fill="#231f20" stroke="#231f20">0</text>
<line x1="156.80" y1="582.50" x2="162.40" y2="582.50" stroke="#231f20" stroke-width="1.0"/>
<rect x="163.30" y="471.80" width="309.20" height="1.70" fill="#f9c9a6"/>
<path d="M271.95,472.5 L272.10,462.10 L273.15,462.10 L273.45,472.5 Z" fill="#55c1f2"/>
<path d="M272.02,472.5 L272.25,468.13 L273.15,468.13 L273.38,472.5 Z" fill="#f0842a"/>
<path d="M275.10,472.5 L275.36,463.10 L277.18,463.10 L277.70,472.5 Z" fill="#55c1f2"/>
<path d="M275.23,472.5 L275.62,467.33 L277.18,467.33 L277.57,472.5 Z" fill="#f0842a"/>
<path d="M289.05,472.5 L289.24,462.70 L290.57,462.70 L290.95,472.5 Z" fill="#55c1f2"/>
<path d="M289.14,472.5 L289.43,468.58 L290.57,468.58 L290.86,472.5 Z" fill="#f0842a"/>
<path d="M292.45,472.5 L292.70,462.10 L294.45,462.10 L294.95,472.5 Z" fill="#55c1f2"/>
<path d="M292.57,472.5 L292.95,467.30 L294.45,467.30 L294.82,472.5 Z" fill="#f0842a"/>
<path d="M342.40,472.5 L342.52,468.50 L343.36,468.50 L343.60,472.5 Z" fill="#55c1f2"/>
<path d="M342.46,472.5 L342.64,470.70 L343.36,470.70 L343.54,472.5 Z" fill="#f0842a"/>
<path d="M345.80,472.5 L345.96,467.70 L347.08,467.70 L347.40,472.5 Z" fill="#55c1f2"/>
<path d="M345.88,472.5 L346.12,470.34 L347.08,470.34 L347.32,472.5 Z" fill="#f0842a"/>
<rect x="163.30" y="490.90" width="309.20" height="0.90" fill="#6a6a6a"/>
<ellipse cx="164.3" cy="491.15" rx="0.76" ry="0.64" fill="#333"/>
<ellipse cx="172.5" cy="491.15" rx="0.56" ry="0.73" fill="#333"/>
<ellipse cx="178.4" cy="491.15" rx="0.55" ry="0.73" fill="#333"/>
<ellipse cx="181.7" cy="491.15" rx="0.85" ry="0.62" fill="#333"/>
<ellipse cx="185.5" cy="491.15" rx="0.84" ry="0.81" fill="#333"/>
<ellipse cx="189.4" cy="491.15" rx="0.68" ry="0.76" fill="#333"/>
<ellipse cx="200.0" cy="491.15" rx="0.96" ry="0.70" fill="#333"/>
<ellipse cx="210.8" cy="491.15" rx="0.54" ry="0.81" fill="#333"/>
<ellipse cx="216.2" cy="491.15" rx="0.62" ry="0.63" fill="#333"/>
<ellipse cx="221.6" cy="491.15" rx="1.15" ry="0.65" fill="#333"/>
<ellipse cx="229.3" cy="491.15" rx="1.01" ry="0.69" fill="#333"/>
<ellipse cx="236.7" cy="491.15" rx="0.55" ry="0.61" fill="#333"/>
<ellipse cx="241.3" cy="491.15" rx="1.04" ry="0.71" fill="#333"/>
<ellipse cx="246.8" cy="491.15" rx="0.97" ry="0.71" fill="#333"/>
<ellipse cx="252.2" cy="491.15" rx="1.14" ry="0.77" fill="#333"/>
<ellipse cx="257.2" cy="491.15" rx="0.96" ry="0.73" fill="#333"/>
<ellipse cx="267.2" cy="491.15" rx="1.08" ry="0.67" fill="#333"/>
<ellipse cx="278.0" cy="491.15" rx="0.59" ry="0.70" fill="#333"/>
<ellipse cx="287.1" cy="491.15" rx="0.62" ry="0.72" fill="#333"/>
<ellipse cx="290.4" cy="491.15" rx="1.03" ry="0.79" fill="#333"/>
<ellipse cx="298.0" cy="491.15" rx="1.20" ry="0.68" fill="#333"/>
<ellipse cx="306.5" cy="491.15" rx="0.98" ry="0.74" fill="#333"/>
<ellipse cx="313.2" cy="491.15" rx="1.17" ry="0.84" fill="#333"/>
<ellipse cx="320.0" cy="491.15" rx="1.03" ry="0.62" fill="#333"/>
<ellipse cx="328.6" cy="491.15" rx="1.02" ry="0.85" fill="#333"/>
<ellipse cx="338.2" cy="491.15" rx="0.73" ry="0.70" fill="#333"/>
<ellipse cx="346.5" cy="491.15" rx="0.52" ry="0.72" fill="#333"/>
<ellipse cx="350.9" cy="491.15" rx="0.59" ry="0.61" fill="#333"/>
<ellipse cx="360.0" cy="491.15" rx="0.60" ry="0.66" fill="#333"/>
<ellipse cx="366.1" cy="491.15" rx="1.20" ry="0.62" fill="#333"/>
<ellipse cx="372.7" cy="491.15" rx="0.94" ry="0.82" fill="#333"/>
<ellipse cx="382.3" cy="491.15" rx="1.19" ry="0.67" fill="#333"/>
<ellipse cx="388.6" cy="491.15" rx="0.79" ry="0.82" fill="#333"/>
<ellipse cx="399.3" cy="491.15" rx="0.62" ry="0.64" fill="#333"/>
<ellipse cx="404.1" cy="491.15" rx="0.69" ry="0.72" fill="#333"/>
<ellipse cx="411.8" cy="491.15" rx="0.71" ry="0.60" fill="#333"/>
<ellipse cx="418.2" cy="491.15" rx="0.80" ry="0.74" fill="#333"/>
<ellipse cx="428.8" cy="491.15" rx="1.05" ry="0.73" fill="#333"/>
<ellipse cx="436.7" cy="491.15" rx="1.04" ry="0.61" fill="#333"/>
<ellipse cx="446.9" cy="491.15" rx="1.12" ry="0.82" fill="#333"/>
<ellipse cx="456.3" cy="491.15" rx="0.81" ry="0.70" fill="#333"/>
<ellipse cx="460.2" cy="491.15" rx="1.01" ry="0.62" fill="#333"/>
<ellipse cx="463.7" cy="491.15" rx="0.67" ry="0.64" fill="#333"/>
<ellipse cx="469.4" cy="491.15" rx="0.54" ry="0.60" fill="#333"/>
<rect x="163.30" y="509.85" width="309.20" height="0.90" fill="#6a6a6a"/>
<ellipse cx="164.3" cy="510.10" rx="0.58" ry="0.69" fill="#333"/>
<ellipse cx="167.5" cy="510.10" rx="1.20" ry="0.75" fill="#333"/>
<ellipse cx="171.7" cy="510.10" rx="0.70" ry="0.69" fill="#333"/>
<ellipse cx="177.6" cy="510.10" rx="0.60" ry="0.81" fill="#333"/>
<ellipse cx="188.6" cy="510.10" rx="0.87" ry="0.72" fill="#333"/>
<ellipse cx="192.2" cy="510.10" rx="0.58" ry="0.69" fill="#333"/>
<ellipse cx="197.4" cy="510.10" rx="1.16" ry="0.64" fill="#333"/>
<ellipse cx="200.5" cy="510.10" rx="1.26" ry="0.73" fill="#333"/>
<ellipse cx="204.7" cy="510.10" rx="0.93" ry="0.61" fill="#333"/>
<ellipse cx="211.9" cy="510.10" rx="1.28" ry="0.82" fill="#333"/>
<ellipse cx="220.5" cy="510.10" rx="0.71" ry="0.69" fill="#333"/>
<ellipse cx="224.8" cy="510.10" rx="1.12" ry="0.73" fill="#333"/>
<ellipse cx="234.1" cy="510.10" rx="0.76" ry="0.66" fill="#333"/>
<ellipse cx="243.6" cy="510.10" rx="1.29" ry="0.81" fill="#333"/>
<ellipse cx="253.0" cy="510.10" rx="1.15" ry="0.78" fill="#333"/>
<ellipse cx="257.8" cy="510.10" rx="0.91" ry="0.69" fill="#333"/>
<ellipse cx="261.1" cy="510.10" rx="0.52" ry="0.67" fill="#333"/>
<ellipse cx="266.1" cy="510.10" rx="1.05" ry="0.84" fill="#333"/>
<ellipse cx="272.7" cy="510.10" rx="1.25" ry="0.85" fill="#333"/>
<ellipse cx="283.4" cy="510.10" rx="0.79" ry="0.66" fill="#333"/>
<ellipse cx="288.2" cy="510.10" rx="0.66" ry="0.65" fill="#333"/>
<ellipse cx="296.2" cy="510.10" rx="1.22" ry="0.81" fill="#333"/>
<ellipse cx="303.0" cy="510.10" rx="1.02" ry="0.80" fill="#333"/>
<ellipse cx="306.7" cy="510.10" rx="1.03" ry="0.83" fill="#333"/>
<ellipse cx="315.9" cy="510.10" rx="1.10" ry="0.72" fill="#333"/>
<ellipse cx="320.4" cy="510.10" rx="1.13" ry="0.68" fill="#333"/>
<ellipse cx="329.8" cy="510.10" rx="1.28" ry="0.70" fill="#333"/>
<ellipse cx="336.0" cy="510.10" rx="1.26" ry="0.78" fill="#333"/>
<ellipse cx="340.3" cy="510.10" rx="0.60" ry="0.64" fill="#333"/>
<ellipse cx="350.6" cy="510.10" rx="1.15" ry="0.64" fill="#333"/>
<ellipse cx="360.2" cy="510.10" rx="1.28" ry="0.76" fill="#333"/>
<ellipse cx="366.0" cy="510.10" rx="0.94" ry="0.63" fill="#333"/>
<ellipse cx="369.1" cy="510.10" rx="1.28" ry="0.76" fill="#333"/>
<ellipse cx="376.3" cy="510.10" rx="1.25" ry="0.71" fill="#333"/>
<ellipse cx="386.3" cy="510.10" rx="1.16" ry="0.65" fill="#333"/>
<ellipse cx="391.3" cy="510.10" rx="0.73" ry="0.66" fill="#333"/>
<ellipse cx="399.0" cy="510.10" rx="0.71" ry="0.70" fill="#333"/>
<ellipse cx="403.0" cy="510.10" rx="1.23" ry="0.69" fill="#333"/>
<ellipse cx="409.7" cy="510.10" rx="0.97" ry="0.83" fill="#333"/>
<ellipse cx="416.1" cy="510.10" rx="1.23" ry="0.73" fill="#333"/>
<ellipse cx="423.3" cy="510.10" rx="0.92" ry="0.60" fill="#333"/>
<ellipse cx="429.9" cy="510.10" rx="0.65" ry="0.60" fill="#333"/>
<ellipse cx="439.2" cy="510.10" rx="0.64" ry="0.72" fill="#333"/>
<ellipse cx="448.1" cy="510.10" rx="0.95" ry="0.68" fill="#333"/>
<ellipse cx="455.2" cy="510.10" rx="0.94" ry="0.80" fill="#333"/>
<ellipse cx="459.0" cy="510.10" rx="0.95" ry="0.66" fill="#333"/>
<ellipse cx="464.3" cy="510.10" rx="1.12" ry="0.73" fill="#333"/>
<ellipse cx="471.8" cy="510.10" rx="1.11" ry="0.83" fill="#333"/>
<path d="M163.3,528.2 L163.3,527.48 L164.0,527.37 L164.7,527.41 L165.4,527.28 L166.1,527.51 L166.8,527.65 L167.5,527.54 L168.2,527.39 L168.9,527.68 L169.6,527.10 L170.3,527.19 L171.0,527.64 L171.7,527.54 L172.4,527.25 L173.1,527.39 L173.8,527.35 L174.5,527.37 L175.2,527.43 L175.9,527.67 L176.6,527.32 L177.3,527.36 L178.0,527.01 L178.7,527.14 L179.4,527.22 L180.1,527.50 L180.8,527.33 L181.5,527.01 L182.2,527.42 L182.9,527.39 L183.6,527.17 L184.3,527.68 L185.0,527.04 L185.7,527.23 L186.4,527.17 L187.1,527.55 L187.8,527.55 L188.5,527.73 L189.2,523.70 L189.9,521.92 L190.6,521.52 L191.3,523.72 L192.0,526.66 L192.7,526.65 L193.4,526.78 L194.1,527.13 L194.8,527.01 L195.5,527.13 L196.2,527.00 L196.9,527.10 L197.6,527.18 L198.3,527.11 L199.0,527.13 L199.7,526.49 L200.4,526.75 L201.1,526.80 L201.8,526.83 L202.5,527.27 L203.2,526.76 L203.9,526.86 L204.6,527.09 L205.3,527.07 L206.0,527.24 L206.7,527.28 L207.4,526.96 L208.1,527.40 L208.8,527.07 L209.5,527.36 L210.2,527.15 L210.9,527.19 L211.6,527.44 L212.3,527.24 L213.0,526.94 L213.7,526.94 L214.4,526.74 L215.1,526.57 L215.8,527.23 L216.5,526.28 L217.2,525.18 L217.9,524.03 L218.6,527.50 L219.3,527.29 L220.0,526.93 L220.7,526.63 L221.4,526.77 L222.1,524.50 L222.8,521.49 L223.5,521.16 L224.2,522.71 L224.9,525.33 L225.6,525.93 L226.3,526.31 L227.0,526.78 L227.7,526.52 L228.4,526.42 L229.1,526.67 L229.8,526.51 L230.5,526.61 L231.2,526.74 L231.9,526.82 L232.6,526.66 L233.3,526.45 L234.0,526.81 L234.7,526.76 L235.4,526.50 L236.1,526.94 L236.8,526.71 L237.5,526.55 L238.2,526.69 L238.9,526.67 L239.6,526.75 L240.3,526.86 L241.0,526.92 L241.7,526.60 L242.4,526.92 L243.1,527.07 L243.8,527.11 L244.5,527.07 L245.2,526.79 L245.9,526.69 L246.6,526.63 L247.3,526.57 L248.0,526.43 L248.7,525.32 L249.4,525.80 L250.1,523.41 L250.8,523.48 L251.5,523.09 L252.2,523.44 L252.9,527.14 L253.6,520.35 L254.3,521.57 L255.0,522.66 L255.7,522.16 L256.4,521.93 L257.1,522.85 L257.8,520.07 L258.5,521.97 L259.2,520.19 L259.9,519.35 L260.6,520.32 L261.3,521.83 L262.0,523.06 L262.7,523.54 L263.4,522.48 L264.1,521.00 L264.8,521.10 L265.5,527.14 L266.2,520.35 L266.9,519.35 L267.6,518.22 L268.3,517.24 L269.0,519.05 L269.7,520.79 L270.4,519.71 L271.1,520.70 L271.8,520.85 L272.5,522.35 L273.2,522.57 L273.9,524.22 L274.6,524.88 L275.3,526.56 L276.0,526.08 L276.7,524.52 L277.4,523.29 L278.1,522.63 L278.8,522.49 L279.5,523.04 L280.2,520.70 L280.9,527.01 L281.6,520.80 L282.3,522.00 L283.0,522.74 L283.7,522.18 L284.4,521.45 L285.1,521.25 L285.8,521.43 L286.5,520.23 L287.2,520.18 L287.9,519.35 L288.6,518.90 L289.3,521.27 L290.0,521.25 L290.7,523.07 L291.4,522.52 L292.1,522.91 L292.8,524.02 L293.5,525.03 L294.2,526.93 L294.9,525.68 L295.6,526.09 L296.3,525.81 L297.0,525.29 L297.7,526.41 L298.4,525.90 L299.1,524.02 L299.8,525.91 L300.5,523.65 L301.2,525.88 L301.9,524.20 L302.6,523.34 L303.3,524.62 L304.0,524.33 L304.7,523.93 L305.4,524.31 L306.1,525.75 L306.8,523.92 L307.5,524.91 L308.2,524.90 L308.9,526.09 L309.6,525.86 L310.3,525.11 L311.0,526.65 L311.7,527.20 L312.4,526.99 L313.1,527.06 L313.8,527.08 L314.5,527.18 L315.2,527.29 L315.9,527.33 L316.6,527.16 L317.3,527.37 L318.0,527.54 L318.7,527.17 L319.4,527.32 L320.1,527.25 L320.8,527.15 L321.5,527.36 L322.2,527.01 L322.9,527.08 L323.6,527.03 L324.3,527.09 L325.0,526.87 L325.7,526.76 L326.4,526.93 L327.1,526.82 L327.8,526.78 L328.5,527.14 L329.2,527.05 L329.9,527.02 L330.6,526.94 L331.3,526.86 L332.0,526.88 L332.7,527.02 L333.4,527.16 L334.1,527.04 L334.8,527.29 L335.5,527.46 L336.2,527.26 L336.9,527.27 L337.6,526.66 L338.3,526.60 L339.0,527.07 L339.7,526.23 L340.4,524.19 L341.1,523.47 L341.8,523.00 L342.5,523.79 L343.2,526.57 L343.9,522.64 L344.6,525.07 L345.3,525.03 L346.0,526.59 L346.7,523.20 L347.4,523.31 L348.1,523.06 L348.8,524.70 L349.5,522.91 L350.2,525.08 L350.9,523.85 L351.6,526.66 L352.3,523.40 L353.0,526.81 L353.7,523.66 L354.4,524.01 L355.1,526.39 L355.8,526.24 L356.5,527.31 L357.2,523.57 L357.9,520.35 L358.6,521.06 L359.3,521.14 L360.0,523.54 L360.7,523.16 L361.4,522.71 L362.1,523.50 L362.8,522.30 L363.5,520.95 L364.2,520.44 L364.9,519.85 L365.6,521.76 L366.3,522.60 L367.0,522.44 L367.7,521.85 L368.4,523.21 L369.1,522.62 L369.8,522.52 L370.5,523.59 L371.2,523.03 L371.9,520.81 L372.6,522.41 L373.3,522.71 L374.0,523.08 L374.7,522.79 L375.4,521.05 L376.1,520.84 L376.8,521.99 L377.5,522.29 L378.2,522.30 L378.9,521.77 L379.6,521.85 L380.3,523.53 L381.0,521.92 L381.7,521.90 L382.4,518.50 L383.1,518.19 L383.8,517.80 L384.5,519.86 L385.2,521.55 L385.9,522.59 L386.6,521.32 L387.3,521.45 L388.0,521.78 L388.7,521.30 L389.4,521.26 L390.1,521.65 L390.8,521.34 L391.5,522.63 L392.2,521.68 L392.9,522.65 L393.6,521.19 L394.3,522.50 L395.0,522.65 L395.7,521.09 L396.4,517.95 L397.1,517.72 L397.8,517.08 L398.5,527.58 L399.2,515.94 L399.9,515.27 L400.6,517.93 L401.3,518.07 L402.0,519.73 L402.7,518.69 L403.4,518.90 L404.1,519.66 L404.8,520.94 L405.5,522.74 L406.2,520.73 L406.9,522.80 L407.6,521.03 L408.3,519.68 L409.0,518.65 L409.7,520.41 L410.4,519.40 L411.1,518.28 L411.8,518.71 L412.5,518.35 L413.2,519.64 L413.9,519.26 L414.6,518.69 L415.3,521.52 L416.0,521.38 L416.7,521.59 L417.4,522.15 L418.1,523.31 L418.8,522.32 L419.5,522.91 L420.2,522.84 L420.9,524.24 L421.6,522.27 L422.3,523.60 L423.0,523.11 L423.7,523.62 L424.4,523.92 L425.1,527.43 L425.8,527.62 L426.5,527.17 L427.2,527.06 L427.9,527.50 L428.6,524.90 L429.3,526.48 L430.0,527.08 L430.7,527.72 L431.4,527.19 L432.1,527.44 L432.8,527.09 L433.5,527.32 L434.2,526.96 L434.9,527.21 L435.6,527.23 L436.3,527.29 L437.0,527.01 L437.7,527.29 L438.4,527.42 L439.1,527.18 L439.8,527.29 L440.5,527.30 L441.2,527.16 L441.9,527.14 L442.6,526.95 L443.3,527.34 L444.0,526.97 L444.7,527.11 L445.4,527.04 L446.1,526.52 L446.8,526.91 L447.5,526.83 L448.2,527.02 L448.9,527.22 L449.6,526.97 L450.3,526.93 L451.0,527.00 L451.7,527.24 L452.4,527.23 L453.1,527.09 L453.8,526.82 L454.5,527.19 L455.2,527.00 L455.9,526.94 L456.6,527.06 L457.3,527.11 L458.0,526.91 L458.7,527.18 L459.4,526.91 L460.1,527.01 L460.8,527.17 L461.5,526.83 L462.2,526.88 L462.9,526.57 L463.6,526.96 L464.3,527.04 L465.0,526.91 L465.7,526.82 L466.4,527.07 L467.1,527.24 L467.8,527.03 L468.5,526.89 L469.2,527.44 L469.9,527.27 L470.6,527.33 L471.3,527.25 L472.0,527.52 L472.0,528.2 Z" fill="#7b3fa0"/>
<path d="M163.3,528.2 L163.3,527.75 L164.0,527.56 L164.7,527.73 L165.4,527.49 L166.1,527.61 L166.8,527.80 L167.5,527.57 L168.2,527.48 L168.9,527.70 L169.6,527.39 L170.3,527.44 L171.0,527.77 L171.7,527.58 L172.4,527.40 L173.1,527.71 L173.8,527.72 L174.5,527.59 L175.2,527.63 L175.9,527.69 L176.6,527.41 L177.3,527.44 L178.0,527.36 L178.7,527.45 L179.4,527.51 L180.1,527.69 L180.8,527.41 L181.5,527.37 L182.2,527.57 L182.9,527.55 L183.6,527.33 L184.3,527.71 L185.0,527.43 L185.7,527.43 L186.4,527.47 L187.1,527.79 L187.8,527.80 L188.5,527.80 L189.2,525.92 L189.9,522.94 L190.6,522.86 L191.3,525.28 L192.0,527.06 L192.7,526.89 L193.4,526.97 L194.1,527.23 L194.8,527.08 L195.5,527.45 L196.2,527.20 L196.9,527.12 L197.6,527.30 L198.3,527.18 L199.0,527.27 L199.7,526.88 L200.4,526.95 L201.1,527.19 L201.8,527.12 L202.5,527.36 L203.2,527.08 L203.9,527.10 L204.6,527.33 L205.3,527.19 L206.0,527.35 L206.7,527.28 L207.4,527.34 L208.1,527.63 L208.8,527.41 L209.5,527.47 L210.2,527.53 L210.9,527.25 L211.6,527.48 L212.3,527.42 L213.0,527.29 L213.7,527.00 L214.4,526.87 L215.1,526.66 L215.8,527.30 L216.5,526.56 L217.2,526.03 L217.9,525.43 L218.6,527.68 L219.3,527.60 L220.0,527.21 L220.7,526.91 L221.4,526.79 L222.1,526.35 L222.8,524.02 L223.5,523.46 L224.2,524.17 L224.9,525.65 L225.6,526.08 L226.3,526.70 L227.0,526.81 L227.7,526.85 L228.4,526.60 L229.1,526.67 L229.8,526.69 L230.5,526.76 L231.2,526.83 L231.9,527.00 L232.6,526.94 L233.3,526.74 L234.0,526.90 L234.7,526.96 L235.4,526.88 L236.1,527.13 L236.8,527.00 L237.5,526.86 L238.2,527.00 L238.9,527.01 L239.6,527.02 L240.3,527.22 L241.0,527.17 L241.7,526.99 L242.4,526.92 L243.1,527.19 L243.8,527.16 L244.5,527.10 L245.2,527.17 L245.9,526.87 L246.6,527.01 L247.3,526.66 L248.0,526.69 L248.7,525.65 L249.4,525.90 L250.1,524.05 L250.8,524.14 L251.5,523.96 L252.2,524.16 L252.9,527.46 L253.6,521.34 L254.3,522.95 L255.0,523.66 L255.7,523.22 L256.4,523.05 L257.1,524.11 L257.8,522.07 L258.5,523.38 L259.2,521.07 L259.9,520.83 L260.6,521.35 L261.3,523.02 L262.0,524.03 L262.7,524.01 L263.4,522.92 L264.1,521.79 L264.8,521.75 L265.5,527.28 L266.2,521.15 L266.9,520.71 L267.6,519.19 L268.3,518.80 L269.0,520.53 L269.7,521.94 L270.4,520.65 L271.1,521.67 L271.8,522.13 L272.5,523.11 L273.2,523.28 L273.9,525.10 L274.6,525.80 L275.3,526.94 L276.0,526.43 L276.7,525.02 L277.4,524.34 L278.1,523.34 L278.8,523.27 L279.5,523.90 L280.2,521.79 L280.9,527.28 L281.6,522.05 L282.3,523.38 L283.0,524.28 L283.7,523.78 L284.4,523.09 L285.1,523.57 L285.8,523.10 L286.5,522.14 L287.2,521.51 L287.9,520.91 L288.6,520.47 L289.3,522.62 L290.0,523.05 L290.7,524.34 L291.4,523.54 L292.1,523.73 L292.8,524.66 L293.5,525.32 L294.2,527.02 L294.9,525.91 L295.6,526.29 L296.3,526.13 L297.0,525.78 L297.7,526.48 L298.4,526.15 L299.1,524.40 L299.8,526.07 L300.5,524.44 L301.2,525.98 L301.9,524.66 L302.6,524.06 L303.3,525.21 L304.0,525.14 L304.7,524.91 L305.4,524.83 L306.1,526.14 L306.8,524.58 L307.5,525.73 L308.2,525.74 L308.9,526.12 L309.6,526.18 L310.3,525.53 L311.0,526.92 L311.7,527.29 L312.4,527.34 L313.1,527.34 L313.8,527.27 L314.5,527.32 L315.2,527.48 L315.9,527.46 L316.6,527.53 L317.3,527.45 L318.0,527.63 L318.7,527.31 L319.4,527.41 L320.1,527.43 L320.8,527.36 L321.5,527.47 L322.2,527.35 L322.9,527.27 L323.6,527.39 L324.3,527.14 L325.0,527.18 L325.7,527.14 L326.4,527.03 L327.1,526.95 L327.8,527.17 L328.5,527.30 L329.2,527.16 L329.9,527.34 L330.6,527.24 L331.3,527.21 L332.0,527.21 L332.7,527.22 L333.4,527.37 L334.1,527.30 L334.8,527.56 L335.5,527.51 L336.2,527.31 L336.9,527.30 L337.6,526.96 L338.3,526.85 L339.0,527.27 L339.7,526.41 L340.4,525.14 L341.1,524.93 L341.8,524.74 L342.5,526.17 L343.2,526.70 L343.9,524.89 L344.6,526.57 L345.3,526.43 L346.0,526.60 L346.7,525.05 L347.4,524.80 L348.1,524.88 L348.8,526.09 L349.5,524.95 L350.2,526.42 L350.9,526.09 L351.6,527.05 L352.3,525.17 L353.0,527.05 L353.7,524.98 L354.4,525.46 L355.1,526.61 L355.8,526.56 L356.5,527.43 L357.2,524.61 L357.9,521.59 L358.6,522.25 L359.3,522.53 L360.0,525.00 L360.7,524.43 L361.4,524.01 L362.1,524.99 L362.8,524.37 L363.5,523.10 L364.2,522.99 L364.9,522.67 L365.6,523.74 L366.3,524.48 L367.0,524.63 L367.7,523.83 L368.4,525.00 L369.1,524.22 L369.8,524.42 L370.5,524.73 L371.2,524.56 L371.9,522.78 L372.6,523.88 L373.3,524.09 L374.0,524.72 L374.7,524.30 L375.4,522.80 L376.1,522.93 L376.8,523.29 L377.5,523.39 L378.2,523.92 L378.9,523.42 L379.6,523.06 L380.3,524.54 L381.0,523.33 L381.7,523.02 L382.4,519.21 L383.1,518.68 L383.8,518.85 L384.5,520.71 L385.2,522.34 L385.9,523.73 L386.6,522.27 L387.3,522.32 L388.0,522.80 L388.7,522.48 L389.4,522.71 L390.1,522.64 L390.8,523.06 L391.5,524.41 L392.2,523.62 L392.9,524.47 L393.6,522.47 L394.3,524.08 L395.0,524.58 L395.7,522.61 L396.4,521.85 L397.1,520.88 L397.8,520.89 L398.5,527.80 L399.2,520.61 L399.9,520.81 L400.6,520.82 L401.3,521.14 L402.0,522.57 L402.7,523.04 L403.4,523.18 L404.1,523.61 L404.8,524.81 L405.5,524.73 L406.2,524.07 L406.9,524.72 L407.6,522.62 L408.3,522.95 L409.0,522.64 L409.7,523.09 L410.4,522.48 L411.1,522.62 L411.8,522.25 L412.5,522.01 L413.2,521.88 L413.9,522.23 L414.6,522.93 L415.3,524.14 L416.0,524.11 L416.7,523.99 L417.4,524.06 L418.1,525.23 L418.8,524.67 L419.5,525.50 L420.2,525.49 L420.9,525.71 L421.6,524.94 L422.3,525.91 L423.0,525.05 L423.7,525.59 L424.4,526.04 L425.1,527.69 L425.8,527.74 L426.5,527.47 L427.2,527.35 L427.9,527.58 L428.6,526.09 L429.3,526.64 L430.0,527.11 L430.7,527.75 L431.4,527.39 L432.1,527.49 L432.8,527.45 L433.5,527.63 L434.2,527.36 L434.9,527.46 L435.6,527.54 L436.3,527.54 L437.0,527.41 L437.7,527.33 L438.4,527.56 L439.1,527.47 L439.8,527.51 L440.5,527.42 L441.2,527.33 L441.9,527.19 L442.6,527.21 L443.3,527.37 L444.0,527.29 L444.7,527.40 L445.4,527.08 L446.1,526.65 L446.8,527.22 L447.5,527.17 L448.2,527.36 L448.9,527.44 L449.6,527.32 L450.3,527.19 L451.0,527.14 L451.7,527.28 L452.4,527.31 L453.1,527.14 L453.8,527.06 L454.5,527.24 L455.2,527.22 L455.9,527.33 L456.6,527.24 L457.3,527.26 L458.0,527.25 L458.7,527.32 L459.4,527.10 L460.1,527.20 L460.8,527.29 L461.5,527.13 L462.2,527.05 L462.9,526.68 L463.6,527.04 L464.3,527.26 L465.0,527.26 L465.7,527.21 L466.4,527.45 L467.1,527.39 L467.8,527.40 L468.5,527.21 L469.2,527.49 L469.9,527.54 L470.6,527.36 L471.3,527.65 L472.0,527.53 L472.0,528.2 Z" fill="#a6cf72"/>
<path d="M185.0,546.0 L185.0,545.06 L185.6,544.89 L186.2,544.65 L186.8,544.78 L187.4,544.45 L188.0,543.93 L188.6,543.27 L189.2,543.54 L189.8,543.12 L190.4,543.69 L191.0,544.35 L191.6,544.57 L192.2,544.84 L192.8,544.93 L193.4,544.73 L194.0,544.93 L194.6,544.98 L195.2,544.86 L195.8,544.64 L196.4,544.74 L197.0,544.61 L197.6,544.75 L198.2,545.04 L198.8,544.83 L199.4,544.79 L200.0,544.97 L200.6,544.91 L201.2,545.19 L201.8,545.20 L202.4,544.76 L203.0,545.11 L203.6,545.14 L204.2,544.80 L204.8,544.88 L205.4,545.19 L206.0,545.09 L206.6,545.13 L207.2,545.11 L207.8,545.20 L208.4,544.99 L209.0,545.10 L209.6,545.05 L210.2,545.16 L210.8,545.19 L211.4,545.20 L212.0,544.81 L212.6,544.88 L213.2,544.97 L213.8,545.19 L214.4,545.18 L215.0,545.19 L215.6,545.07 L216.2,545.17 L216.8,545.04 L217.4,545.05 L218.0,545.03 L218.6,544.78 L219.2,544.85 L219.8,544.82 L220.4,544.61 L221.0,544.13 L221.6,543.47 L222.2,543.32 L222.8,542.44 L223.4,540.91 L224.0,541.92 L224.6,542.84 L225.2,544.29 L225.8,544.21 L226.4,544.94 L227.0,544.98 L227.6,545.03 L228.2,545.09 L228.8,544.81 L229.4,544.90 L230.0,545.17 L230.6,545.00 L231.2,544.94 L231.8,545.20 L232.4,545.20 L233.0,544.95 L233.6,544.89 L234.2,545.02 L234.8,545.04 L235.4,545.00 L236.0,545.12 L236.6,544.81 L237.2,544.77 L237.8,545.01 L238.4,545.20 L239.0,545.05 L239.6,544.85 L240.2,545.02 L240.8,544.93 L241.4,544.69 L242.0,544.23 L242.6,544.07 L243.2,544.19 L243.8,544.26 L244.4,544.43 L245.0,544.57 L245.6,544.61 L246.2,544.79 L246.8,544.59 L247.4,544.51 L248.0,544.52 L248.6,544.27 L249.2,544.06 L249.8,543.79 L250.4,543.51 L251.0,544.04 L251.6,544.23 L252.2,544.40 L252.8,543.95 L253.4,543.06 L254.0,542.03 L254.6,541.33 L255.2,542.60 L255.8,543.51 L256.4,543.05 L257.0,543.93 L257.6,543.43 L258.2,544.08 L258.8,544.54 L259.4,544.46 L260.0,544.63 L260.6,544.97 L261.2,544.52 L261.8,544.79 L262.4,544.55 L263.0,544.61 L263.6,544.96 L264.2,545.02 L264.8,545.04 L265.4,544.42 L266.0,544.05 L266.6,544.11 L267.2,543.87 L267.8,543.25 L268.4,543.00 L269.0,543.51 L269.6,544.02 L270.2,544.27 L270.8,544.37 L271.4,544.33 L272.0,544.74 L272.6,544.75 L273.2,544.08 L273.8,543.42 L274.4,542.99 L275.0,542.47 L275.6,541.25 L276.2,538.75 L276.8,536.10 L277.4,537.82 L278.0,539.74 L278.6,541.31 L279.2,542.52 L279.8,543.93 L280.4,544.40 L281.0,544.09 L281.6,544.37 L282.2,543.70 L282.8,543.96 L283.4,544.04 L284.0,543.86 L284.6,543.86 L285.2,543.66 L285.8,543.19 L286.4,542.85 L287.0,543.39 L287.6,544.07 L288.2,544.28 L288.8,543.98 L289.4,544.35 L290.0,544.09 L290.6,544.09 L291.2,543.82 L291.8,542.18 L292.4,541.48 L293.0,540.46 L293.6,538.14 L294.2,535.12 L294.8,538.07 L295.4,540.61 L296.0,541.10 L296.6,542.28 L297.2,542.83 L297.8,544.13 L298.4,544.15 L299.0,544.79 L299.6,544.96 L300.2,544.85 L300.8,544.99 L301.4,544.86 L302.0,545.06 L302.6,544.81 L303.2,545.20 L303.8,544.94 L304.4,545.16 L305.0,545.15 L305.6,544.81 L306.2,545.03 L306.8,544.84 L307.4,544.84 L308.0,544.20 L308.6,543.50 L309.2,543.37 L309.8,544.13 L310.4,544.42 L311.0,544.77 L311.6,544.85 L312.2,545.02 L312.8,545.04 L313.4,545.19 L314.0,544.85 L314.6,545.16 L315.2,545.13 L315.8,545.20 L316.4,545.15 L317.0,545.04 L317.6,544.99 L318.2,545.14 L318.8,545.01 L319.4,544.84 L320.0,545.17 L320.6,545.15 L321.2,544.95 L321.8,544.76 L322.4,544.75 L323.0,544.92 L323.6,545.16 L324.2,544.76 L324.8,544.70 L325.4,544.75 L326.0,544.93 L326.6,545.00 L327.2,544.90 L327.8,544.79 L328.4,544.69 L329.0,544.94 L329.6,544.93 L330.2,545.02 L330.8,544.91 L331.4,544.90 L332.0,545.03 L332.6,544.94 L333.2,544.71 L333.8,545.05 L334.4,545.04 L335.0,545.01 L335.6,544.73 L336.2,545.01 L336.8,544.74 L337.4,544.69 L338.0,544.71 L338.6,544.75 L339.2,545.05 L339.8,544.92 L340.4,544.73 L341.0,545.02 L341.6,544.84 L342.2,544.70 L342.8,544.67 L343.4,544.95 L344.0,545.07 L344.6,545.11 L345.2,544.97 L345.8,544.85 L346.4,544.98 L347.0,544.70 L347.6,544.79 L348.2,544.80 L348.8,544.70 L349.4,544.94 L350.0,544.78 L350.6,544.93 L351.2,544.96 L351.8,545.04 L352.4,544.70 L353.0,544.64 L353.6,545.08 L354.2,544.73 L354.8,545.06 L355.4,544.88 L356.0,544.93 L356.6,544.63 L357.2,544.86 L357.8,544.82 L358.4,544.90 L359.0,544.94 L359.6,544.95 L360.2,545.04 L360.8,545.06 L361.4,544.79 L362.0,544.69 L362.6,544.72 L363.2,544.93 L363.8,544.56 L364.4,545.01 L365.0,544.83 L365.6,544.64 L366.2,544.48 L366.8,543.85 L367.4,543.32 L368.0,543.21 L368.6,542.22 L369.2,540.39 L369.8,542.08 L370.4,543.30 L371.0,543.90 L371.6,544.33 L372.2,544.44 L372.8,544.81 L373.4,544.73 L374.0,544.96 L374.6,544.70 L375.2,544.64 L375.8,544.74 L376.4,544.43 L377.0,544.37 L377.6,544.47 L378.2,544.56 L378.8,544.77 L379.4,544.74 L380.0,545.11 L380.6,545.08 L381.2,544.81 L381.8,544.89 L382.4,544.59 L383.0,544.44 L383.6,544.68 L384.2,543.97 L384.8,543.94 L385.4,543.04 L386.0,541.73 L386.6,542.04 L387.2,543.54 L387.8,543.66 L388.4,544.49 L389.0,544.30 L389.6,544.71 L390.2,544.50 L390.8,544.81 L391.4,544.60 L392.0,544.54 L392.6,544.48 L393.2,544.58 L393.8,544.72 L394.4,544.82 L395.0,544.74 L395.6,544.58 L396.2,544.46 L396.8,544.26 L397.4,544.10 L398.0,543.53 L398.6,543.56 L399.2,543.02 L399.8,542.96 L400.4,543.12 L401.0,543.04 L401.6,543.82 L402.2,543.64 L402.8,544.02 L403.4,544.26 L404.0,544.29 L404.6,544.38 L405.2,544.47 L405.8,544.56 L406.4,544.38 L407.0,544.24 L407.6,544.50 L408.2,544.56 L408.8,544.28 L409.4,543.96 L410.0,544.09 L410.6,543.80 L411.2,543.30 L411.8,542.01 L412.4,540.88 L413.0,540.60 L413.6,540.87 L414.2,542.76 L414.8,543.02 L415.4,542.95 L416.0,543.12 L416.6,543.76 L417.2,543.81 L417.8,544.14 L418.4,544.12 L419.0,543.98 L419.6,544.50 L420.2,544.27 L420.8,544.04 L421.4,543.66 L422.0,544.04 L422.6,544.01 L423.2,543.38 L423.8,543.83 L424.4,544.13 L425.0,544.06 L425.6,544.18 L426.2,544.22 L426.8,544.44 L427.4,544.48 L428.0,544.80 L428.6,544.70 L429.2,544.77 L429.8,544.90 L430.4,544.91 L431.0,544.71 L431.6,545.10 L432.2,545.19 L432.8,545.08 L433.4,545.17 L434.0,545.20 L434.6,544.79 L435.2,544.98 L435.8,545.20 L436.4,544.98 L437.0,545.16 L437.6,545.01 L438.2,544.78 L438.8,544.76 L439.4,545.05 L440.0,544.86 L440.6,545.00 L441.2,545.20 L441.8,545.05 L442.4,544.84 L443.0,544.86 L443.6,544.89 L444.2,544.76 L444.8,545.06 L445.4,544.90 L446.0,544.84 L446.6,544.51 L447.2,544.25 L447.8,544.08 L448.4,544.71 L449.0,545.06 L449.6,544.94 L450.2,545.19 L450.8,545.10 L451.4,545.06 L452.0,545.15 L452.6,545.16 L453.2,544.92 L453.8,545.10 L454.4,545.20 L455.0,544.85 L455.6,544.78 L456.2,545.14 L456.8,544.91 L457.4,545.20 L458.0,545.14 L458.6,545.17 L459.2,544.93 L459.8,544.97 L460.4,544.84 L461.0,544.92 L461.6,544.87 L462.2,544.81 L462.8,544.96 L463.4,545.14 L464.0,545.17 L464.6,544.82 L465.2,544.84 L465.8,544.93 L466.4,544.77 L467.0,544.85 L467.6,545.05 L468.2,545.16 L468.8,545.04 L469.4,544.79 L470.0,544.81 L470.6,545.20 L471.2,545.20 L471.8,545.03 L472.4,544.80 L472.4,546.0 Z" fill="#e8152d"/>
<rect x="163.50" y="545.00" width="2.30" height="1.00" fill="#e8152d"/>
<rect x="166.90" y="545.00" width="2.30" height="1.00" fill="#e8152d"/>
<rect x="170.40" y="545.00" width="3.90" height="1.00" fill="#e8152d"/>
<rect x="179.60" y="545.00" width="2.30" height="1.00" fill="#e8152d"/>
<rect x="183.00" y="545.00" width="2.00" height="1.00" fill="#e8152d"/>
<rect x="163.30" y="563.40" width="309.20" height="0.90" fill="#f3a36a"/>
<path d="M187.50,564.3 L188.00,557.30 L188.60,557.30 L189.10,564.3 Z" fill="#f08a3c"/>
<path d="M191.50,564.3 L192.00,557.30 L192.60,557.30 L193.10,564.3 Z" fill="#f08a3c"/>
<path d="M222.70,564.3 L223.20,560.80 L223.80,560.80 L224.30,564.3 Z" fill="#f08a3c"/>
<path d="M368.70,564.3 L369.20,552.10 L369.80,552.10 L370.30,564.3 Z" fill="#f08a3c"/>
<path d="M385.50,564.3 L386.00,548.80 L386.60,548.80 L387.10,564.3 Z" fill="#f08a3c"/>
<path d="M400.00,564.3 L400.50,550.00 L401.10,550.00 L401.60,564.3 Z" fill="#f08a3c"/>
<path d="M412.20,564.3 L412.70,553.30 L413.30,553.30 L413.80,564.3 Z" fill="#f08a3c"/>
<path d="M444.20,564.3 L444.70,563.10 L445.30,563.10 L445.80,564.3 Z" fill="#f08a3c"/>
<path d="M467.20,564.3 L467.70,563.10 L468.30,563.10 L468.80,564.3 Z" fill="#f08a3c"/>
<rect x="163.30" y="581.50" width="309.20" height="1.50" fill="#a9dcbc"/>
<path d="M163.3,583.0 L163.3,582.74 L163.7,582.75 L164.1,582.98 L164.5,582.94 L164.9,582.77 L165.3,582.87 L165.7,582.90 L166.1,582.71 L166.5,582.99 L166.9,582.85 L167.3,582.74 L167.7,582.79 L168.1,582.73 L168.5,582.92 L168.9,582.83 L169.3,582.71 L169.7,582.96 L170.1,582.87 L170.5,582.70 L170.9,582.95 L171.3,582.77 L171.7,582.78 L172.1,582.92 L172.5,582.70 L172.9,582.77 L173.3,582.96 L173.7,582.70 L174.1,582.74 L174.5,582.86 L174.9,582.99 L175.3,582.76 L175.7,582.82 L176.1,582.78 L176.5,582.98 L176.9,582.86 L177.3,582.76 L177.7,582.78 L178.1,582.95 L178.5,582.90 L178.9,582.86 L179.3,582.86 L179.7,582.70 L180.1,582.72 L180.5,583.00 L180.9,582.81 L181.3,582.96 L181.7,582.74 L182.1,582.84 L182.5,582.73 L182.9,582.73 L183.3,582.72 L183.7,582.95 L184.1,582.97 L184.5,582.76 L184.9,582.84 L185.3,582.74 L185.7,582.82 L186.1,582.79 L186.5,582.63 L186.9,582.65 L187.3,582.45 L187.7,582.21 L188.1,581.68 L188.5,581.11 L188.9,579.75 L189.3,580.39 L189.7,581.28 L190.1,581.73 L190.5,582.14 L190.9,582.01 L191.3,581.95 L191.7,581.68 L192.1,580.94 L192.5,579.81 L192.9,580.91 L193.3,581.77 L193.7,581.84 L194.1,582.09 L194.5,582.03 L194.9,581.53 L195.3,581.84 L195.7,582.32 L196.1,582.41 L196.5,582.70 L196.9,582.62 L197.3,582.85 L197.7,582.86 L198.1,582.69 L198.5,582.73 L198.9,582.71 L199.3,582.96 L199.7,582.98 L200.1,582.79 L200.5,582.90 L200.9,582.97 L201.3,582.97 L201.7,582.90 L202.1,582.91 L202.5,582.80 L202.9,582.70 L203.3,582.95 L203.7,582.76 L204.1,582.82 L204.5,582.74 L204.9,582.70 L205.3,582.73 L205.7,582.96 L206.1,582.78 L206.5,582.77 L206.9,582.89 L207.3,582.99 L207.7,582.77 L208.1,582.81 L208.5,582.77 L208.9,582.77 L209.3,582.78 L209.7,582.99 L210.1,582.72 L210.5,582.71 L210.9,582.89 L211.3,582.76 L211.7,582.72 L212.1,582.87 L212.5,582.90 L212.9,582.82 L213.3,582.77 L213.7,582.88 L214.1,582.79 L214.5,582.71 L214.9,582.89 L215.3,582.73 L215.7,582.96 L216.1,582.82 L216.5,582.75 L216.9,582.88 L217.3,582.91 L217.7,582.92 L218.1,582.89 L218.5,582.88 L218.9,582.87 L219.3,582.92 L219.7,582.82 L220.1,582.92 L220.5,582.90 L220.9,582.83 L221.3,582.67 L221.7,582.82 L222.1,582.77 L222.5,582.46 L222.9,582.28 L223.3,581.99 L223.7,581.73 L224.1,582.39 L224.5,582.50 L224.9,582.75 L225.3,582.65 L225.7,582.83 L226.1,582.78 L226.5,582.74 L226.9,582.78 L227.3,582.90 L227.7,582.91 L228.1,582.82 L228.5,582.84 L228.9,582.79 L229.3,582.98 L229.7,582.98 L230.1,583.00 L230.5,582.76 L230.9,582.95 L231.3,582.77 L231.7,582.86 L232.1,582.71 L232.5,582.81 L232.9,582.75 L233.3,582.97 L233.7,582.73 L234.1,582.89 L234.5,582.99 L234.9,582.74 L235.3,582.93 L235.7,582.80 L236.1,582.99 L236.5,582.87 L236.9,582.86 L237.3,582.87 L237.7,582.75 L238.1,582.91 L238.5,582.73 L238.9,582.95 L239.3,582.71 L239.7,582.91 L240.1,582.80 L240.5,582.72 L240.9,582.80 L241.3,582.74 L241.7,582.97 L242.1,582.71 L242.5,582.99 L242.9,582.80 L243.3,582.75 L243.7,582.77 L244.1,582.78 L244.5,582.82 L244.9,582.70 L245.3,582.93 L245.7,582.73 L246.1,582.76 L246.5,582.94 L246.9,582.86 L247.3,582.87 L247.7,582.96 L248.1,582.74 L248.5,582.74 L248.9,582.77 L249.3,582.99 L249.7,582.78 L250.1,582.72 L250.5,582.78 L250.9,582.72 L251.3,582.71 L251.7,582.79 L252.1,582.78 L252.5,582.91 L252.9,582.77 L253.3,582.91 L253.7,582.92 L254.1,582.90 L254.5,582.91 L254.9,582.99 L255.3,582.95 L255.7,582.92 L256.1,582.93 L256.5,582.99 L256.9,582.78 L257.3,582.75 L257.7,582.90 L258.1,582.79 L258.5,582.74 L258.9,582.99 L259.3,582.83 L259.7,582.82 L260.1,582.95 L260.5,582.73 L260.9,582.76 L261.3,582.84 L261.7,582.84 L262.1,582.75 L262.5,582.98 L262.9,582.74 L263.3,582.84 L263.7,582.91 L264.1,582.92 L264.5,582.84 L264.9,582.97 L265.3,582.75 L265.7,582.88 L266.1,582.73 L266.5,582.71 L266.9,582.76 L267.3,582.97 L267.7,582.93 L268.1,582.81 L268.5,582.72 L268.9,582.81 L269.3,582.89 L269.7,582.76 L270.1,582.86 L270.5,582.82 L270.9,582.86 L271.3,582.71 L271.7,582.82 L272.1,582.97 L272.5,582.81 L272.9,582.88 L273.3,582.95 L273.7,582.85 L274.1,582.92 L274.5,582.72 L274.9,582.93 L275.3,582.84 L275.7,583.00 L276.1,582.91 L276.5,582.80 L276.9,582.85 L277.3,582.80 L277.7,582.83 L278.1,582.82 L278.5,582.92 L278.9,582.72 L279.3,582.80 L279.7,582.99 L280.1,582.75 L280.5,582.95 L280.9,582.88 L281.3,582.81 L281.7,582.73 L282.1,582.95 L282.5,582.91 L282.9,582.85 L283.3,582.80 L283.7,582.86 L284.1,582.79 L284.5,582.70 L284.9,582.98 L285.3,582.88 L285.7,582.76 L286.1,582.76 L286.5,582.71 L286.9,582.90 L287.3,582.93 L287.7,582.80 L288.1,582.75 L288.5,582.76 L288.9,582.84 L289.3,582.96 L289.7,582.79 L290.1,582.92 L290.5,582.99 L290.9,583.00 L291.3,582.90 L291.7,582.89 L292.1,582.84 L292.5,582.87 L292.9,582.85 L293.3,582.81 L293.7,582.94 L294.1,582.76 L294.5,582.80 L294.9,582.75 L295.3,582.83 L295.7,582.83 L296.1,582.74 L296.5,582.79 L296.9,582.90 L297.3,582.71 L297.7,582.90 L298.1,582.85 L298.5,582.65 L298.9,582.69 L299.3,582.69 L299.7,582.31 L300.1,582.29 L300.5,582.66 L300.9,582.68 L301.3,582.76 L301.7,582.83 L302.1,582.73 L302.5,582.90 L302.9,582.95 L303.3,582.73 L303.7,582.82 L304.1,582.85 L304.5,582.73 L304.9,582.79 L305.3,582.74 L305.7,582.90 L306.1,582.91 L306.5,582.90 L306.9,582.86 L307.3,582.83 L307.7,582.94 L308.1,582.83 L308.5,582.72 L308.9,582.78 L309.3,583.00 L309.7,582.86 L310.1,582.81 L310.5,582.98 L310.9,582.70 L311.3,582.76 L311.7,582.83 L312.1,582.84 L312.5,582.81 L312.9,582.88 L313.3,582.83 L313.7,582.85 L314.1,582.90 L314.5,582.86 L314.9,582.98 L315.3,582.82 L315.7,582.93 L316.1,582.92 L316.5,582.95 L316.9,582.77 L317.3,582.86 L317.7,582.83 L318.1,582.85 L318.5,582.82 L318.9,582.89 L319.3,582.92 L319.7,582.77 L320.1,582.78 L320.5,582.95 L320.9,582.96 L321.3,582.89 L321.7,582.76 L322.1,582.91 L322.5,582.93 L322.9,582.87 L323.3,582.85 L323.7,582.81 L324.1,582.90 L324.5,582.88 L324.9,582.70 L325.3,582.77 L325.7,582.93 L326.1,582.84 L326.5,582.94 L326.9,582.69 L327.3,582.90 L327.7,582.68 L328.1,582.87 L328.5,582.83 L328.9,582.73 L329.3,582.63 L329.7,582.47 L330.1,582.35 L330.5,582.54 L330.9,582.75 L331.3,582.68 L331.7,582.71 L332.1,582.88 L332.5,582.93 L332.9,582.97 L333.3,582.93 L333.7,582.84 L334.1,582.81 L334.5,582.71 L334.9,582.75 L335.3,582.95 L335.7,582.92 L336.1,582.94 L336.5,582.98 L336.9,582.99 L337.3,582.84 L337.7,582.71 L338.1,582.71 L338.5,582.99 L338.9,582.93 L339.3,582.89 L339.7,582.74 L340.1,582.97 L340.5,582.87 L340.9,582.74 L341.3,582.77 L341.7,582.95 L342.1,582.84 L342.5,582.80 L342.9,582.96 L343.3,582.74 L343.7,582.80 L344.1,582.89 L344.5,582.90 L344.9,582.97 L345.3,582.73 L345.7,582.94 L346.1,582.82 L346.5,582.79 L346.9,582.82 L347.3,582.76 L347.7,582.92 L348.1,582.80 L348.5,582.94 L348.9,582.79 L349.3,582.77 L349.7,582.86 L350.1,582.78 L350.5,582.80 L350.9,583.00 L351.3,582.94 L351.7,582.94 L352.1,582.79 L352.5,582.75 L352.9,582.93 L353.3,582.72 L353.7,582.94 L354.1,582.87 L354.5,582.75 L354.9,582.91 L355.3,582.74 L355.7,582.99 L356.1,582.91 L356.5,582.75 L356.9,582.80 L357.3,582.96 L357.7,582.85 L358.1,582.84 L358.5,582.99 L358.9,582.72 L359.3,582.99 L359.7,582.72 L360.1,582.79 L360.5,582.79 L360.9,582.88 L361.3,582.91 L361.7,582.83 L362.1,582.69 L362.5,582.94 L362.9,582.81 L363.3,582.76 L363.7,582.63 L364.1,582.68 L364.5,582.57 L364.9,582.60 L365.3,582.62 L365.7,582.38 L366.1,582.54 L366.5,582.17 L366.9,582.19 L367.3,581.90 L367.7,581.56 L368.1,580.97 L368.5,580.23 L368.9,579.39 L369.3,578.31 L369.7,576.89 L370.1,578.41 L370.5,579.49 L370.9,580.37 L371.3,580.95 L371.7,581.38 L372.1,581.90 L372.5,581.92 L372.9,582.36 L373.3,582.29 L373.7,582.66 L374.1,582.74 L374.5,582.52 L374.9,582.76 L375.3,582.77 L375.7,582.69 L376.1,582.91 L376.5,582.77 L376.9,582.70 L377.3,582.82 L377.7,582.96 L378.1,582.92 L378.5,582.71 L378.9,582.91 L379.3,582.75 L379.7,582.75 L380.1,582.70 L380.5,582.72 L380.9,582.72 L381.3,582.60 L381.7,582.58 L382.1,582.66 L382.5,582.61 L382.9,582.33 L383.3,582.18 L383.7,581.93 L384.1,581.76 L384.5,581.16 L384.9,580.76 L385.3,580.13 L385.7,579.30 L386.1,578.07 L386.5,576.43 L386.9,574.14 L387.3,575.38 L387.7,577.13 L388.1,578.69 L388.5,579.58 L388.9,580.33 L389.3,581.02 L389.7,581.42 L390.1,581.91 L390.5,582.11 L390.9,582.31 L391.3,582.45 L391.7,582.38 L392.1,582.65 L392.5,582.51 L392.9,582.62 L393.3,582.78 L393.7,582.74 L394.1,582.75 L394.5,582.73 L394.9,582.57 L395.3,582.63 L395.7,582.62 L396.1,582.53 L396.5,582.51 L396.9,582.45 L397.3,582.21 L397.7,581.86 L398.1,581.57 L398.5,581.41 L398.9,580.70 L399.3,579.96 L399.7,579.07 L400.1,577.72 L400.5,576.26 L400.9,574.08 L401.3,572.64 L401.7,575.31 L402.1,576.98 L402.5,578.54 L402.9,579.56 L403.3,580.41 L403.7,581.01 L404.1,581.51 L404.5,581.73 L404.9,581.95 L405.3,582.10 L405.7,582.37 L406.1,582.49 L406.5,582.53 L406.9,582.46 L407.3,582.66 L407.7,582.76 L408.1,582.60 L408.5,582.45 L408.9,582.60 L409.3,582.45 L409.7,582.23 L410.1,582.06 L410.5,581.90 L410.9,581.45 L411.3,581.00 L411.7,580.46 L412.1,579.63 L412.5,578.82 L412.9,577.36 L413.3,575.52 L413.7,576.54 L414.1,578.09 L414.5,579.14 L414.9,580.09 L415.3,580.93 L415.7,581.28 L416.1,581.67 L416.5,582.07 L416.9,582.26 L417.3,582.48 L417.7,582.51 L418.1,582.51 L418.5,582.69 L418.9,582.76 L419.3,582.81 L419.7,582.62 L420.1,582.86 L420.5,582.82 L420.9,582.89 L421.3,582.83 L421.7,582.75 L422.1,582.72 L422.5,582.81 L422.9,582.71 L423.3,582.91 L423.7,582.79 L424.1,582.89 L424.5,582.92 L424.9,582.88 L425.3,582.94 L425.7,582.81 L426.1,582.95 L426.5,582.79 L426.9,582.78 L427.3,582.99 L427.7,582.89 L428.1,582.80 L428.5,582.81 L428.9,582.81 L429.3,583.00 L429.7,582.78 L430.1,582.96 L430.5,582.99 L430.9,582.77 L431.3,582.87 L431.7,582.94 L432.1,582.96 L432.5,582.89 L432.9,582.80 L433.3,582.99 L433.7,582.84 L434.1,582.86 L434.5,582.74 L434.9,582.87 L435.3,582.95 L435.7,582.82 L436.1,582.97 L436.5,582.97 L436.9,582.73 L437.3,582.83 L437.7,582.89 L438.1,582.94 L438.5,582.96 L438.9,582.88 L439.3,582.87 L439.7,582.72 L440.1,582.86 L440.5,582.88 L440.9,582.85 L441.3,582.91 L441.7,582.85 L442.1,582.88 L442.5,582.93 L442.9,582.87 L443.3,582.75 L443.7,582.94 L444.1,582.76 L444.5,582.64 L444.9,582.69 L445.3,582.65 L445.7,582.40 L446.1,582.25 L446.5,582.05 L446.9,581.66 L447.3,581.66 L447.7,582.19 L448.1,582.48 L448.5,582.73 L448.9,582.77 L449.3,582.67 L449.7,582.75 L450.1,582.91 L450.5,582.75 L450.9,582.75 L451.3,582.96 L451.7,582.81 L452.1,582.90 L452.5,582.88 L452.9,582.91 L453.3,582.84 L453.7,582.97 L454.1,582.71 L454.5,582.96 L454.9,582.70 L455.3,582.99 L455.7,582.88 L456.1,582.92 L456.5,582.70 L456.9,582.90 L457.3,582.70 L457.7,582.89 L458.1,582.97 L458.5,582.89 L458.9,582.98 L459.3,582.85 L459.7,582.95 L460.1,582.93 L460.5,582.96 L460.9,582.90 L461.3,582.70 L461.7,582.84 L462.1,582.81 L462.5,582.75 L462.9,582.87 L463.3,582.80 L463.7,582.99 L464.1,582.83 L464.5,582.73 L464.9,582.86 L465.3,582.91 L465.7,582.64 L466.1,582.63 L466.5,582.69 L466.9,582.63 L467.3,582.35 L467.7,582.01 L468.1,581.85 L468.5,582.07 L468.9,582.41 L469.3,582.49 L469.7,582.67 L470.1,582.61 L470.5,582.74 L470.9,582.81 L471.3,582.83 L471.7,582.73 L472.1,582.80 L472.5,582.83 L472.5,583.0 Z" fill="#1fa45a"/>
<rect x="163.80" y="589.50" width="13.40" height="3.20" fill="#b8c88c"/>
<rect x="177.20" y="589.50" width="2.00" height="3.20" fill="#3cb4e6"/>
<rect x="179.20" y="589.50" width="5.40" height="3.20" fill="#b8c88c"/>
<rect x="184.60" y="589.50" width="3.90" height="3.20" fill="#fff200"/>
<rect x="188.50" y="589.50" width="4.50" height="3.20" fill="#f7c200"/>
<rect x="193.00" y="589.50" width="7.00" height="3.20" fill="#fff200"/>
<rect x="200.00" y="589.50" width="2.30" height="3.20" fill="#f5a300"/>
<rect x="202.30" y="589.50" width="10.00" height="3.20" fill="#b8c88c"/>
<rect x="212.30" y="589.50" width="1.50" height="3.20" fill="#fff200"/>
<rect x="213.80" y="589.50" width="5.40" height="3.20" fill="#10a040"/>
<rect x="219.20" y="589.50" width="2.00" height="3.20" fill="#fff200"/>
<rect x="221.20" y="589.50" width="5.00" height="3.20" fill="#ff0000"/>
<rect x="226.20" y="589.50" width="3.80" height="3.20" fill="#f7c200"/>
<rect x="230.00" y="589.50" width="5.40" height="3.20" fill="#fff200"/>
<rect x="235.40" y="589.50" width="1.20" height="3.20" fill="#10a040"/>
<rect x="236.60" y="589.50" width="1.90" height="3.20" fill="#fff200"/>
<rect x="238.50" y="589.50" width="2.70" height="3.20" fill="#10a040"/>
<rect x="241.20" y="589.50" width="3.40" height="3.20" fill="#fff200"/>
<rect x="244.60" y="589.50" width="6.20" height="3.20" fill="#ff0000"/>
<rect x="250.80" y="589.50" width="10.00" height="3.20" fill="#f7c200"/>
<rect x="260.80" y="589.50" width="16.10" height="3.20" fill="#ff0000"/>
<rect x="276.90" y="589.50" width="1.30" height="3.20" fill="#ff8080"/>
<rect x="278.20" y="589.50" width="16.90" height="3.20" fill="#ff0000"/>
<rect x="295.10" y="589.50" width="7.20" height="3.20" fill="#f7c200"/>
<rect x="302.30" y="589.50" width="2.00" height="3.20" fill="#fff200"/>
<rect x="304.30" y="589.50" width="8.00" height="3.20" fill="#f7c200"/>
<rect x="312.30" y="589.50" width="3.10" height="3.20" fill="#fff200"/>
<rect x="315.40" y="589.50" width="4.60" height="3.20" fill="#b8c88c"/>
<rect x="320.00" y="589.50" width="5.40" height="3.20" fill="#fff200"/>
<rect x="325.40" y="589.50" width="1.50" height="3.20" fill="#f7c200"/>
<rect x="326.90" y="589.50" width="4.60" height="3.20" fill="#fff200"/>
<rect x="331.50" y="589.50" width="1.50" height="3.20" fill="#c0e000"/>
<rect x="333.00" y="589.50" width="5.50" height="3.20" fill="#10a040"/>
<rect x="338.50" y="589.50" width="1.50" height="3.20" fill="#fff200"/>
<rect x="340.00" y="589.50" width="8.50" height="3.20" fill="#ff0000"/>
<rect x="348.50" y="589.50" width="50.70" height="3.20" fill="#f7c200"/>
<rect x="399.20" y="589.50" width="0.80" height="3.20" fill="#ff0000"/>
<rect x="400.00" y="589.50" width="8.50" height="3.20" fill="#f7c200"/>
<rect x="408.50" y="589.50" width="2.50" height="3.20" fill="#ff0000"/>
<rect x="411.00" y="589.50" width="16.70" height="3.20" fill="#f7c200"/>
<rect x="427.70" y="589.50" width="1.50" height="3.20" fill="#10a040"/>
<rect x="429.20" y="589.50" width="2.30" height="3.20" fill="#fff200"/>
<rect x="431.50" y="589.50" width="14.70" height="3.20" fill="#10a040"/>
<rect x="446.20" y="589.50" width="3.00" height="3.20" fill="#f7c200"/>
<rect x="449.20" y="589.50" width="2.30" height="3.20" fill="#a0c000"/>
<rect x="451.50" y="589.50" width="21.50" height="3.20" fill="#10a040"/>
<rect x="363.40" y="589.50" width="0.80" height="3.20" fill="#ffe680"/>
<rect x="386.40" y="589.50" width="0.80" height="3.20" fill="#ffe680"/>
<rect x="394.00" y="589.50" width="0.80" height="3.20" fill="#ffe680"/>
<rect x="357.5" y="477.0" width="75.0" height="131.0" fill="none" stroke="#111" stroke-width="1.1" stroke-dasharray="2.6,1.6"/>
<text x="359.50" y="602.50" font-size="8.6" fill="#231f20" stroke="#231f20" textLength="13.0" lengthAdjust="spacingAndGlyphs">HS1</text>
<text x="379.50" y="602.50" font-size="8.6" fill="#231f20" stroke="#231f20" textLength="13.0" lengthAdjust="spacingAndGlyphs">HS2</text>
<text x="398.80" y="602.50" font-size="8.6" fill="#231f20" stroke="#231f20" textLength="13.0" lengthAdjust="spacingAndGlyphs">HS3</text>
<text x="416.30" y="602.50" font-size="8.6" fill="#231f20" stroke="#231f20" textLength="13.0" lengthAdjust="spacingAndGlyphs">HS4</text>
</g>
<rect x="0.6" y="0.6" width="518.8" height="613.6" fill="none" stroke="#000" stroke-width="1.3"/>
</svg></body></html>
